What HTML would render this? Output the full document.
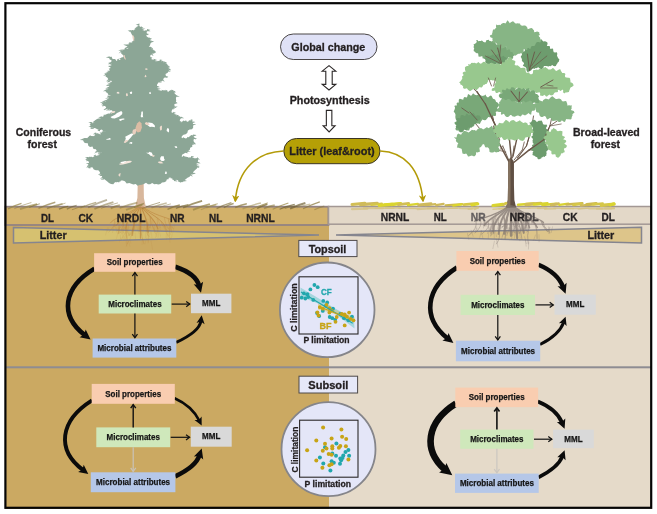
<!DOCTYPE html>
<html><head><meta charset="utf-8"><title>Graphical abstract</title>
<style>
html,body{margin:0;padding:0;background:#fff;}
body{width:657px;height:514px;overflow:hidden;font-family:"Liberation Sans",sans-serif;}
svg{display:block;will-change:transform;opacity:0.9999;font-family:"Liberation Sans",sans-serif;font-weight:bold;}
</style></head><body>
<svg width="657" height="514" viewBox="0 0 657 514">
<defs>
<marker id="ah" viewBox="0 0 10 10" refX="8" refY="5" markerWidth="5.5" markerHeight="5.5" orient="auto-start-reverse"><path d="M0,0.5 L10,5 L0,9.5 L3,5 Z" fill="#111"/></marker>
<marker id="ahg" viewBox="0 0 10 10" refX="8" refY="5" markerWidth="5.5" markerHeight="5.5" orient="auto-start-reverse"><path d="M0,0.5 L10,5 L0,9.5 L3,5 Z" fill="#c4c0bb"/></marker>
<marker id="ahy" viewBox="0 0 10 10" refX="8" refY="5" markerWidth="4.6" markerHeight="4.6" orient="auto"><path d="M0,0 L10,5 L0,10 L3,5 Z" fill="#b39b08"/></marker>
</defs>
<rect x="0" y="0" width="657" height="514" fill="#fff"/>

<g id="soil">
<rect x="5" y="206" width="324" height="303" fill="#cba962"/>
<rect x="329" y="206" width="323" height="303" fill="#e5dac9"/>
<rect x="5.5" y="206.7" width="323" height="18.3" fill="#d2b16a" stroke="#938383" stroke-width="1.8"/>
<rect x="328.5" y="206.5" width="322.5" height="17.7" fill="#e3d8c8" stroke="#a39894" stroke-width="1.5"/>
<rect x="5" y="366.3" width="646" height="2" fill="#8e8c92"/>
</g>
<g id="conifer">
<path d="M137.8,180 L143.6,180 L143.9,198 L146,207.5 L135,207.5 L137.4,198 Z" fill="#d8b79c"/>
<polygon fill="#8ca696" points="138.8,24.4 138.0,26.6 136.0,28.0 134.8,29.9 132.6,30.7 130.2,30.8 130.9,32.8 131.8,34.6 133.0,36.3 133.8,38.6 133.6,40.8 132.0,42.7 129.8,42.8 128.7,45.1 126.6,45.4 128.1,46.9 128.4,49.0 125.6,48.4 123.6,50.3 121.1,50.9 121.2,53.4 123.0,55.1 123.8,57.3 121.8,57.9 120.6,59.9 118.2,59.7 116.5,60.9 115.1,59.1 112.9,59.0 111.3,57.6 109.2,57.3 109.5,59.3 111.7,60.5 110.7,63.0 112.0,64.6 110.6,66.5 110.2,69.0 109.6,71.3 107.4,72.8 105.6,74.2 105.6,76.4 107.2,77.5 108.5,79.2 109.8,80.6 112.0,81.0 110.6,82.9 109.1,84.8 109.2,87.4 108.2,89.1 106.2,90.0 105.6,92.0 107.5,93.1 108.6,95.3 111.0,95.6 108.7,96.3 108.4,99.3 106.7,100.7 104.9,102.0 102.8,102.9 103.0,105.4 105.4,106.3 106.5,108.2 108.2,109.3 110.5,109.4 112.1,110.7 114.0,111.5 112.4,112.7 110.8,113.7 108.8,114.2 107.0,115.1 104.9,115.3 103.5,116.8 101.5,117.2 100.3,119.1 98.1,119.2 96.3,119.8 94.9,121.5 93.9,123.6 91.3,122.9 90.0,124.7 91.2,126.9 93.2,127.8 95.5,128.2 97.4,129.2 99.4,130.3 101.9,129.6 103.6,131.8 106.0,131.5 103.9,132.0 102.2,133.3 100.3,134.5 97.7,133.2 95.6,133.5 94.3,136.4 92.0,136.0 89.9,135.9 88.4,137.5 86.7,138.8 84.7,139.1 82.7,139.3 83.6,141.4 84.8,143.1 87.8,143.3 88.3,145.7 90.0,146.9 92.5,146.6 93.5,149.1 95.9,149.2 97.0,151.4 98.7,152.7 101.2,152.5 103.0,153.5 100.7,152.8 99.2,155.1 97.5,156.2 95.1,155.5 93.6,157.5 91.5,157.6 89.4,157.7 87.4,158.0 87.3,160.0 88.7,161.8 89.2,163.7 88.2,165.8 89.8,167.6 92.4,167.2 93.8,169.6 95.9,170.3 98.3,170.3 99.6,171.8 100.5,173.5 101.5,175.2 102.3,177.1 103.7,178.5 105.4,180.1 107.3,181.4 109.0,182.9 111.0,184.0 113.3,184.3 114.7,182.6 116.5,181.7 118.6,181.7 120.2,180.4 122.7,180.4 124.9,181.3 126.7,183.6 129.3,183.1 131.3,183.8 133.4,184.6 135.8,183.9 137.5,185.8 139.6,185.0 141.8,184.8 143.9,184.0 146.0,182.8 148.0,184.3 150.1,184.3 152.2,182.9 154.2,184.3 156.3,183.9 158.3,184.5 160.4,184.0 162.0,182.6 164.3,182.3 166.2,181.3 167.0,178.7 168.9,177.7 171.3,177.6 173.0,178.8 174.5,180.2 177.0,179.3 178.7,180.6 180.4,181.7 182.3,182.2 183.8,180.5 185.7,179.2 187.5,177.7 189.6,176.7 190.8,174.8 192.7,173.6 193.6,171.4 195.2,169.9 196.9,168.5 197.8,166.5 196.0,164.2 197.6,162.2 198.1,160.1 197.7,158.0 195.6,158.3 193.6,158.4 191.7,156.8 189.5,158.1 187.5,158.1 185.5,157.3 183.6,156.4 181.5,156.8 182.3,154.6 184.3,153.6 185.9,152.2 187.7,151.1 189.7,150.0 190.2,147.7 192.3,146.8 192.2,144.0 194.2,142.9 193.5,140.5 194.1,137.9 193.5,135.5 191.3,135.0 189.5,136.6 187.7,137.7 185.7,138.5 183.5,137.9 181.5,138.5 181.8,136.3 183.5,134.8 185.6,134.2 187.3,133.0 187.9,130.4 189.6,129.4 192.1,129.3 193.2,127.4 193.0,124.9 192.8,122.3 191.4,120.1 189.5,120.8 187.6,121.7 185.5,121.5 183.4,120.5 181.6,122.2 179.5,121.9 180.1,119.5 181.4,117.4 179.3,116.7 177.3,115.7 175.2,114.9 173.8,112.7 171.3,112.8 171.8,110.5 172.7,108.4 175.0,107.3 174.0,103.8 175.7,102.4 176.2,100.5 175.9,98.4 176.5,95.8 174.5,93.8 174.0,91.5 172.1,90.3 170.1,90.3 168.1,92.0 166.2,90.6 164.3,90.3 162.3,90.7 160.4,91.0 158.4,91.0 157.4,89.0 157.1,86.9 157.0,84.7 158.1,83.0 159.4,81.5 161.7,81.4 163.1,80.1 163.8,78.0 166.1,76.9 165.5,74.0 167.7,72.8 168.7,70.7 168.2,68.5 167.7,66.4 166.6,64.0 164.7,62.5 162.2,61.8 160.4,60.4 158.2,60.9 155.9,62.0 154.2,59.7 152.1,60.0 150.4,58.0 150.3,55.4 151.8,53.8 154.2,53.4 155.8,51.8 154.0,50.6 152.0,49.7 150.9,47.4 148.5,47.2 149.9,45.5 150.6,43.3 152.1,41.7 150.1,40.8 149.6,38.3 147.3,37.7 145.8,36.3 147.1,34.4 146.6,31.9 147.6,29.9 145.5,31.1 143.0,30.8 142.0,29.2 141.6,27.1 139.1,26.5"/>
<path fill="#8ca696" d="M139.4,23.5 L135.6,24.7 L139.4,25.3 Z M139.4,23.5 L137.2,25.7 L139.4,25.3 Z M138.6,25.7 L136.3,27.1 L138.6,27.5 Z M138.6,25.7 L135.6,27.8 L138.6,27.5 Z M136.6,27.1 L134.4,28.8 L136.6,28.9 Z M136.6,27.1 L134.1,29.7 L136.6,28.9 Z M135.4,29.0 L133.8,31.1 L135.4,30.8 Z M135.4,29.0 L133.3,31.1 L135.4,30.8 Z M133.2,29.8 L130.6,32.3 L133.2,31.6 Z M133.2,29.8 L130.7,30.8 L133.2,31.6 Z M130.8,29.9 L128.8,31.8 L130.8,31.7 Z M130.8,29.9 L127.6,30.7 L130.8,31.7 Z M134.2,39.9 L131.5,42.0 L134.2,41.7 Z M134.2,39.9 L132.3,41.8 L134.2,41.7 Z M132.6,41.8 L129.0,44.7 L132.6,43.6 Z M132.6,41.8 L129.7,44.7 L132.6,43.6 Z M130.4,41.9 L128.2,43.2 L130.4,43.7 Z M130.4,41.9 L128.5,43.8 L130.4,43.7 Z M129.3,44.2 L126.1,44.6 L129.3,46.0 Z M129.3,44.2 L126.7,46.5 L129.3,46.0 Z M127.2,44.5 L124.0,45.0 L127.2,46.3 Z M127.2,44.5 L123.2,44.6 L127.2,46.3 Z M128.7,46.0 L125.2,48.9 L128.7,47.8 Z M128.7,46.0 L124.8,48.0 L128.7,47.8 Z M129.0,48.1 L126.5,49.5 L129.0,49.9 Z M129.0,48.1 L125.9,50.8 L129.0,49.9 Z M126.2,47.5 L124.1,50.1 L126.2,49.3 Z M126.2,47.5 L124.1,48.8 L126.2,49.3 Z M124.2,49.4 L122.0,50.5 L124.2,51.2 Z M124.2,49.4 L120.0,49.8 L124.2,51.2 Z M121.7,50.0 L118.6,53.4 L121.7,51.8 Z M121.7,50.0 L118.2,50.2 L121.7,51.8 Z M124.4,56.4 L122.1,57.4 L124.4,58.2 Z M124.4,56.4 L122.5,58.4 L124.4,58.2 Z M122.4,57.0 L119.5,60.4 L122.4,58.8 Z M122.4,57.0 L119.0,59.0 L122.4,58.8 Z M121.2,59.0 L119.0,60.4 L121.2,60.8 Z M121.2,59.0 L118.0,61.7 L121.2,60.8 Z M118.8,58.8 L116.7,59.2 L118.8,60.6 Z M118.8,58.8 L117.0,60.9 L118.8,60.6 Z M111.9,56.7 L109.5,57.7 L111.9,58.5 Z M111.9,56.7 L108.2,57.0 L111.9,58.5 Z M109.8,56.4 L107.4,56.8 L109.8,58.2 Z M109.8,56.4 L105.7,57.2 L109.8,58.2 Z M111.3,62.1 L107.9,64.2 L111.3,63.9 Z M111.3,62.1 L108.1,63.1 L111.3,63.9 Z M112.6,63.7 L110.5,65.3 L112.6,65.5 Z M112.6,63.7 L109.9,64.7 L112.6,65.5 Z M111.2,65.6 L108.2,66.4 L111.2,67.4 Z M111.2,65.6 L108.0,65.9 L111.2,67.4 Z M110.8,68.1 L108.6,68.8 L110.8,69.9 Z M110.8,68.1 L108.9,70.1 L110.8,69.9 Z M110.2,70.4 L107.4,72.6 L110.2,72.2 Z M110.2,70.4 L106.5,71.0 L110.2,72.2 Z M108.0,71.9 L103.9,73.4 L108.0,73.7 Z M108.0,71.9 L105.0,73.5 L108.0,73.7 Z M106.2,73.3 L103.2,75.9 L106.2,75.1 Z M106.2,73.3 L104.2,75.4 L106.2,75.1 Z M109.1,78.3 L106.0,81.4 L109.1,80.1 Z M109.1,78.3 L106.9,80.7 L109.1,80.1 Z M110.4,79.7 L106.9,82.7 L110.4,81.5 Z M110.4,79.7 L106.4,81.6 L110.4,81.5 Z M111.2,82.0 L107.6,83.9 L111.2,83.8 Z M111.2,82.0 L108.0,83.4 L111.2,83.8 Z M109.7,83.9 L105.8,85.3 L109.7,85.7 Z M109.7,83.9 L106.3,85.9 L109.7,85.7 Z M109.8,86.5 L106.2,87.6 L109.8,88.3 Z M109.8,86.5 L107.7,88.2 L109.8,88.3 Z M108.8,88.2 L106.4,89.3 L108.8,90.0 Z M108.8,88.2 L105.2,88.4 L108.8,90.0 Z M106.8,89.1 L103.0,91.3 L106.8,90.9 Z M106.8,89.1 L103.8,91.3 L106.8,90.9 Z M109.3,95.4 L106.5,98.1 L109.3,97.2 Z M109.3,95.4 L106.6,96.1 L109.3,97.2 Z M109.0,98.4 L105.0,98.5 L109.0,100.2 Z M109.0,98.4 L106.1,100.4 L109.0,100.2 Z M107.3,99.8 L103.3,100.0 L107.3,101.6 Z M107.3,99.8 L103.8,100.1 L107.3,101.6 Z M105.5,101.1 L102.7,103.0 L105.5,102.9 Z M105.5,101.1 L101.7,101.2 L105.5,102.9 Z M103.4,102.0 L99.8,102.5 L103.4,103.8 Z M103.4,102.0 L101.3,104.7 L103.4,103.8 Z M103.6,104.5 L101.5,104.9 L103.6,106.3 Z M103.6,104.5 L101.8,106.3 L103.6,106.3 Z M107.1,107.3 L104.0,110.2 L107.1,109.1 Z M107.1,107.3 L103.4,109.7 L107.1,109.1 Z M108.8,108.4 L105.9,110.6 L108.8,110.2 Z M108.8,108.4 L106.7,109.9 L108.8,110.2 Z M111.1,108.5 L108.5,110.6 L111.1,110.3 Z M111.1,108.5 L108.7,109.9 L111.1,110.3 Z M114.6,110.6 L111.9,112.1 L114.6,112.4 Z M114.6,110.6 L112.2,112.2 L114.6,112.4 Z M113.0,111.8 L109.0,113.3 L113.0,113.6 Z M113.0,111.8 L109.7,113.7 L113.0,113.6 Z M111.4,112.8 L109.1,114.7 L111.4,114.6 Z M111.4,112.8 L109.0,114.6 L111.4,114.6 Z M109.4,113.3 L105.2,114.4 L109.4,115.1 Z M109.4,113.3 L105.9,114.5 L109.4,115.1 Z M107.6,114.2 L104.2,114.9 L107.6,116.0 Z M107.6,114.2 L105.0,116.6 L107.6,116.0 Z M105.5,114.4 L103.0,115.6 L105.5,116.2 Z M105.5,114.4 L103.0,115.1 L105.5,116.2 Z M104.1,115.9 L101.3,118.7 L104.1,117.7 Z M104.1,115.9 L101.0,117.4 L104.1,117.7 Z M102.1,116.3 L99.3,117.1 L102.1,118.1 Z M102.1,116.3 L98.1,118.1 L102.1,118.1 Z M100.9,118.2 L97.4,119.2 L100.9,120.0 Z M100.9,118.2 L98.5,118.6 L100.9,120.0 Z M98.7,118.3 L96.1,119.6 L98.7,120.1 Z M98.7,118.3 L95.8,120.3 L98.7,120.1 Z M96.9,118.9 L94.1,121.9 L96.9,120.7 Z M96.9,118.9 L93.5,121.4 L96.9,120.7 Z M95.5,120.6 L91.9,122.6 L95.5,122.4 Z M95.5,120.6 L93.2,123.3 L95.5,122.4 Z M94.5,122.7 L90.5,124.2 L94.5,124.5 Z M94.5,122.7 L90.6,124.3 L94.5,124.5 Z M91.9,122.0 L88.3,122.1 L91.9,123.8 Z M91.9,122.0 L89.4,125.0 L91.9,123.8 Z M91.8,126.0 L88.4,126.1 L91.8,127.8 Z M91.8,126.0 L89.6,127.0 L91.8,127.8 Z M93.8,126.9 L90.5,129.0 L93.8,128.7 Z M93.8,126.9 L89.9,128.2 L93.8,128.7 Z M100.0,129.4 L97.6,130.8 L100.0,131.2 Z M100.0,129.4 L97.3,130.6 L100.0,131.2 Z M104.2,130.9 L102.0,133.0 L104.2,132.7 Z M104.2,130.9 L101.8,132.1 L104.2,132.7 Z M104.5,131.1 L101.3,132.8 L104.5,132.9 Z M104.5,131.1 L101.5,131.8 L104.5,132.9 Z M102.8,132.4 L99.4,132.6 L102.8,134.2 Z M102.8,132.4 L98.8,134.3 L102.8,134.2 Z M96.2,132.6 L94.1,133.1 L96.2,134.4 Z M96.2,132.6 L92.7,134.3 L96.2,134.4 Z M94.9,135.5 L92.4,137.1 L94.9,137.3 Z M94.9,135.5 L91.2,137.4 L94.9,137.3 Z M90.5,135.0 L87.9,137.8 L90.5,136.8 Z M90.5,135.0 L88.5,136.7 L90.5,136.8 Z M89.0,136.6 L86.1,139.0 L89.0,138.4 Z M89.0,136.6 L86.9,138.7 L89.0,138.4 Z M87.3,137.9 L83.6,138.9 L87.3,139.7 Z M87.3,137.9 L83.3,138.0 L87.3,139.7 Z M85.3,138.2 L82.1,138.6 L85.3,140.0 Z M85.3,138.2 L83.0,140.0 L85.3,140.0 Z M83.3,138.4 L79.8,140.1 L83.3,140.2 Z M83.3,138.4 L80.8,140.0 L83.3,140.2 Z M97.6,150.5 L94.1,153.4 L97.6,152.3 Z M97.6,150.5 L94.9,152.0 L97.6,152.3 Z M103.6,152.6 L99.9,152.7 L103.6,154.4 Z M103.6,152.6 L99.7,154.8 L103.6,154.4 Z M101.3,151.9 L97.8,154.1 L101.3,153.7 Z M101.3,151.9 L97.5,153.5 L101.3,153.7 Z M99.8,154.2 L97.5,155.0 L99.8,156.0 Z M99.8,154.2 L97.3,157.5 L99.8,156.0 Z M98.1,155.3 L95.6,156.8 L98.1,157.1 Z M98.1,155.3 L94.3,156.5 L98.1,157.1 Z M95.7,154.6 L93.5,156.7 L95.7,156.4 Z M95.7,154.6 L93.4,155.7 L95.7,156.4 Z M94.2,156.6 L91.0,158.3 L94.2,158.4 Z M94.2,156.6 L90.2,158.4 L94.2,158.4 Z M92.1,156.7 L89.2,157.5 L92.1,158.5 Z M92.1,156.7 L88.4,156.9 L92.1,158.5 Z M90.0,156.8 L87.9,157.9 L90.0,158.6 Z M90.0,156.8 L86.2,157.7 L90.0,158.6 Z M88.0,157.1 L85.0,157.5 L88.0,158.9 Z M88.0,157.1 L86.0,159.5 L88.0,158.9 Z M87.9,159.1 L86.2,161.3 L87.9,160.9 Z M87.9,159.1 L84.9,159.6 L87.9,160.9 Z M89.8,162.8 L85.7,163.4 L89.8,164.6 Z M89.8,162.8 L87.1,166.0 L89.8,164.6 Z M88.8,164.9 L86.1,168.0 L88.8,166.7 Z M88.8,164.9 L86.7,166.7 L88.8,166.7 Z M90.4,166.7 L87.3,166.9 L90.4,168.5 Z M90.4,166.7 L87.8,168.1 L90.4,168.5 Z M101.1,172.6 L98.4,174.8 L101.1,174.4 Z M101.1,172.6 L97.9,175.0 L101.1,174.4 Z M102.1,174.3 L100.2,176.1 L102.1,176.1 Z M102.1,174.3 L99.1,175.6 L102.1,176.1 Z M102.9,176.2 L101.1,178.3 L102.9,178.0 Z M102.9,176.2 L99.9,179.1 L102.9,178.0 Z M104.3,177.6 L101.9,179.3 L104.3,179.4 Z M104.3,177.6 L100.5,179.7 L104.3,179.4 Z M117.1,180.8 L113.7,180.9 L117.1,182.6 Z M117.1,180.8 L114.0,181.0 L117.1,182.6 Z M119.2,180.8 L116.5,181.3 L119.2,182.6 Z M119.2,180.8 L116.5,181.4 L119.2,182.6 Z M120.8,179.5 L117.4,181.4 L120.8,181.3 Z M120.8,179.5 L117.8,182.3 L120.8,181.3 Z M166.4,177.8 L169.4,179.0 L166.4,179.6 Z M166.4,177.8 L169.3,178.0 L166.4,179.6 Z M170.7,176.7 L174.1,178.1 L170.7,178.5 Z M170.7,176.7 L173.7,177.2 L170.7,178.5 Z M172.4,177.9 L174.3,180.0 L172.4,179.7 Z M172.4,177.9 L176.1,179.2 L172.4,179.7 Z M173.9,179.3 L177.7,181.5 L173.9,181.1 Z M173.9,179.3 L177.6,179.9 L173.9,181.1 Z M176.4,178.4 L180.5,180.1 L176.4,180.2 Z M176.4,178.4 L178.8,178.9 L176.4,180.2 Z M178.1,179.7 L180.2,180.1 L178.1,181.5 Z M178.1,179.7 L181.2,182.5 L178.1,181.5 Z M179.8,180.8 L182.4,181.8 L179.8,182.6 Z M179.8,180.8 L183.8,181.6 L179.8,182.6 Z M183.2,179.6 L187.0,181.1 L183.2,181.4 Z M183.2,179.6 L186.3,180.9 L183.2,181.4 Z M190.2,173.9 L192.6,175.0 L190.2,175.7 Z M190.2,173.9 L192.9,176.4 L190.2,175.7 Z M192.1,172.7 L195.9,173.0 L192.1,174.5 Z M192.1,172.7 L195.8,173.5 L192.1,174.5 Z M197.2,165.6 L199.5,168.1 L197.2,167.4 Z M197.2,165.6 L199.8,165.9 L197.2,167.4 Z M195.4,163.3 L198.9,164.3 L195.4,165.1 Z M195.4,163.3 L197.7,164.1 L195.4,165.1 Z M197.0,161.3 L200.8,163.2 L197.0,163.1 Z M197.0,161.3 L199.7,163.5 L197.0,163.1 Z M197.1,157.1 L199.6,159.4 L197.1,158.9 Z M197.1,157.1 L199.8,160.0 L197.1,158.9 Z M193.0,157.5 L196.1,160.5 L193.0,159.3 Z M193.0,157.5 L195.4,159.3 L193.0,159.3 Z M191.1,155.9 L194.3,156.5 L191.1,157.7 Z M191.1,155.9 L193.6,157.1 L191.1,157.7 Z M188.9,157.2 L190.6,159.3 L188.9,159.0 Z M188.9,157.2 L193.0,158.7 L188.9,159.0 Z M186.9,157.2 L190.3,158.2 L186.9,159.0 Z M186.9,157.2 L189.0,157.6 L186.9,159.0 Z M184.9,156.4 L188.6,157.2 L184.9,158.2 Z M184.9,156.4 L188.1,157.4 L184.9,158.2 Z M183.0,155.5 L185.1,156.7 L183.0,157.3 Z M183.0,155.5 L185.2,158.3 L183.0,157.3 Z M180.9,155.9 L183.2,158.8 L180.9,157.7 Z M180.9,155.9 L183.3,158.3 L180.9,157.7 Z M185.3,151.3 L188.6,153.3 L185.3,153.1 Z M185.3,151.3 L188.2,151.5 L185.3,153.1 Z M187.1,150.2 L189.3,150.8 L187.1,152.0 Z M187.1,150.2 L190.8,151.3 L187.1,152.0 Z M191.6,143.1 L194.4,143.7 L191.6,144.9 Z M191.6,143.1 L194.9,144.3 L191.6,144.9 Z M193.6,142.0 L195.8,143.2 L193.6,143.8 Z M193.6,142.0 L196.1,144.4 L193.6,143.8 Z M193.5,137.0 L196.2,139.6 L193.5,138.8 Z M193.5,137.0 L197.2,138.9 L193.5,138.8 Z M192.9,134.6 L196.5,135.1 L192.9,136.4 Z M192.9,134.6 L196.6,135.4 L192.9,136.4 Z M187.1,136.8 L189.7,138.8 L187.1,138.6 Z M187.1,136.8 L189.9,139.0 L187.1,138.6 Z M182.9,137.0 L185.5,139.0 L182.9,138.8 Z M182.9,137.0 L186.5,139.5 L182.9,138.8 Z M180.9,137.6 L184.5,139.4 L180.9,139.4 Z M180.9,137.6 L183.2,140.3 L180.9,139.4 Z M192.4,124.0 L196.4,124.3 L192.4,125.8 Z M192.4,124.0 L195.1,124.5 L192.4,125.8 Z M192.2,121.4 L195.0,121.7 L192.2,123.2 Z M192.2,121.4 L195.5,122.0 L192.2,123.2 Z M190.8,119.2 L193.1,120.3 L190.8,121.0 Z M190.8,119.2 L193.1,120.1 L190.8,121.0 Z M188.9,119.9 L191.3,121.9 L188.9,121.7 Z M188.9,119.9 L192.0,122.2 L188.9,121.7 Z M184.9,120.6 L187.7,122.7 L184.9,122.4 Z M184.9,120.6 L187.3,121.1 L184.9,122.4 Z M178.9,121.0 L181.9,121.4 L178.9,122.8 Z M178.9,121.0 L181.8,122.8 L178.9,122.8 Z M180.8,116.5 L184.2,118.3 L180.8,118.3 Z M180.8,116.5 L183.4,118.1 L180.8,118.3 Z M178.7,115.8 L180.8,117.2 L178.7,117.6 Z M178.7,115.8 L180.5,118.1 L178.7,117.6 Z M176.7,114.8 L179.8,116.6 L176.7,116.6 Z M176.7,114.8 L179.2,115.4 L176.7,116.6 Z M174.6,114.0 L177.1,115.1 L174.6,115.8 Z M174.6,114.0 L176.6,116.1 L174.6,115.8 Z M173.2,111.8 L175.9,113.2 L173.2,113.6 Z M173.2,111.8 L176.1,113.1 L173.2,113.6 Z M170.7,111.9 L172.9,113.7 L170.7,113.7 Z M170.7,111.9 L174.3,114.0 L170.7,113.7 Z M172.1,107.5 L174.1,109.2 L172.1,109.3 Z M172.1,107.5 L175.1,108.2 L172.1,109.3 Z M174.4,106.4 L176.6,107.4 L174.4,108.2 Z M174.4,106.4 L177.8,106.6 L174.4,108.2 Z M173.4,102.9 L175.5,103.7 L173.4,104.7 Z M173.4,102.9 L177.2,103.0 L173.4,104.7 Z M175.1,101.5 L177.5,102.7 L175.1,103.3 Z M175.1,101.5 L177.6,103.4 L175.1,103.3 Z M175.9,94.9 L178.5,96.3 L175.9,96.7 Z M175.9,94.9 L179.8,96.7 L175.9,96.7 Z M173.9,92.9 L176.7,95.6 L173.9,94.7 Z M173.9,92.9 L176.7,95.8 L173.9,94.7 Z M173.4,90.6 L175.9,92.8 L173.4,92.4 Z M173.4,90.6 L175.7,91.4 L173.4,92.4 Z M171.5,89.4 L173.3,91.3 L171.5,91.2 Z M171.5,89.4 L173.9,90.8 L171.5,91.2 Z M165.6,89.7 L168.0,91.0 L165.6,91.5 Z M165.6,89.7 L168.6,91.4 L165.6,91.5 Z M161.7,89.8 L164.8,91.6 L161.7,91.6 Z M161.7,89.8 L164.2,91.0 L161.7,91.6 Z M157.8,90.1 L161.3,90.6 L157.8,91.9 Z M157.8,90.1 L160.9,90.9 L157.8,91.9 Z M156.8,88.1 L160.8,88.7 L156.8,89.9 Z M156.8,88.1 L160.1,89.2 L156.8,89.9 Z M156.5,86.0 L159.7,86.1 L156.5,87.8 Z M156.5,86.0 L160.2,87.0 L156.5,87.8 Z M158.8,80.6 L161.9,82.4 L158.8,82.4 Z M158.8,80.6 L161.0,81.3 L158.8,82.4 Z M162.5,79.2 L164.3,81.1 L162.5,81.0 Z M162.5,79.2 L164.9,81.4 L162.5,81.0 Z M165.5,76.0 L168.4,76.6 L165.5,77.8 Z M165.5,76.0 L168.2,77.8 L165.5,77.8 Z M168.1,69.8 L169.7,71.8 L168.1,71.6 Z M168.1,69.8 L170.8,71.5 L168.1,71.6 Z M167.6,67.6 L171.3,70.0 L167.6,69.4 Z M167.6,67.6 L171.1,70.5 L167.6,69.4 Z M167.1,65.5 L170.4,68.4 L167.1,67.3 Z M167.1,65.5 L170.3,66.4 L167.1,67.3 Z M166.0,63.1 L168.7,65.9 L166.0,64.9 Z M166.0,63.1 L167.8,65.0 L166.0,64.9 Z M164.1,61.6 L167.1,62.4 L164.1,63.4 Z M164.1,61.6 L166.1,63.5 L164.1,63.4 Z M161.6,60.9 L164.5,61.2 L161.6,62.7 Z M161.6,60.9 L164.1,61.3 L161.6,62.7 Z M159.8,59.5 L162.4,60.2 L159.8,61.3 Z M159.8,59.5 L162.7,59.9 L159.8,61.3 Z M155.3,61.1 L157.9,64.1 L155.3,62.9 Z M155.3,61.1 L158.9,61.5 L155.3,62.9 Z M153.6,58.8 L156.9,62.0 L153.6,60.6 Z M153.6,58.8 L157.7,60.3 L153.6,60.6 Z M151.5,59.1 L154.5,61.1 L151.5,60.9 Z M151.5,59.1 L154.5,62.7 L151.5,60.9 Z M149.8,57.1 L152.5,57.4 L149.8,58.9 Z M149.8,57.1 L152.7,59.6 L149.8,58.9 Z M151.2,52.9 L153.3,54.6 L151.2,54.7 Z M151.2,52.9 L153.9,56.2 L151.2,54.7 Z M153.4,49.7 L155.5,51.5 L153.4,51.5 Z M153.4,49.7 L156.4,53.2 L153.4,51.5 Z M151.4,48.8 L153.5,49.5 L151.4,50.6 Z M151.4,48.8 L154.5,52.3 L151.4,50.6 Z M150.3,46.5 L153.4,49.2 L150.3,48.3 Z M150.3,46.5 L153.1,48.4 L150.3,48.3 Z M147.9,46.3 L151.8,48.0 L147.9,48.1 Z M147.9,46.3 L150.8,47.3 L147.9,48.1 Z M151.5,40.8 L154.1,41.4 L151.5,42.6 Z M151.5,40.8 L154.0,41.4 L151.5,42.6 Z M149.5,39.9 L151.9,41.2 L149.5,41.7 Z M149.5,39.9 L153.2,41.4 L149.5,41.7 Z M149.0,37.4 L152.4,39.1 L149.0,39.2 Z M149.0,37.4 L151.4,40.2 L149.0,39.2 Z M146.7,36.8 L148.9,38.5 L146.7,38.6 Z M146.7,36.8 L149.5,37.9 L146.7,38.6 Z M145.2,35.4 L147.6,38.5 L145.2,37.2 Z M145.2,35.4 L147.4,36.4 L145.2,37.2 Z M146.5,33.5 L148.9,34.8 L146.5,35.3 Z M146.5,33.5 L149.1,34.1 L146.5,35.3 Z M147.0,29.0 L150.6,31.4 L147.0,30.8 Z M147.0,29.0 L150.6,30.0 L147.0,30.8 Z M144.9,30.2 L147.7,31.1 L144.9,32.0 Z M144.9,30.2 L148.2,30.9 L144.9,32.0 Z M142.4,29.9 L146.2,31.4 L142.4,31.7 Z M142.4,29.9 L146.0,32.3 L142.4,31.7 Z M141.4,28.3 L145.5,28.8 L141.4,30.1 Z M141.4,28.3 L143.9,30.0 L141.4,30.1 Z M141.0,26.2 L143.5,27.9 L141.0,28.0 Z M141.0,26.2 L143.4,28.1 L141.0,28.0 Z M139.7,25.6 L136.2,28.3 L139.7,27.4 Z M139.7,25.6 L137.2,26.5 L139.7,27.4 Z"/>
<polygon fill="#fff" points="122.4,112.5 122.1,114.3 119.1,116.7 114.7,118.6 111.9,118.3 110.5,117.0 115.0,114.7 117.0,112.9 121.3,111.1"/>
<polygon fill="#fff" points="124.3,118.5 124.4,119.5 122.1,120.1 120.6,120.9 119.7,120.5 118.9,120.0 119.8,119.0 121.5,118.7 122.8,118.4"/>
<polygon fill="#f0ddd0" points="114.6,111.1 115.4,111.7 114.1,112.9 112.6,113.0 111.0,113.7 111.6,112.5 111.4,111.7 112.9,111.2 113.7,111.1"/>
<polygon fill="#fff" points="133.8,133.7 131.8,136.3 130.4,137.9 127.8,140.7 125.0,140.8 125.8,138.6 125.2,136.8 128.5,134.9 131.4,133.6"/>
<polygon fill="#eed9cb" points="127.5,140.1 128.5,140.7 127.0,141.8 125.3,142.9 123.8,142.8 124.3,141.6 124.7,140.8 125.9,140.2 126.8,139.9"/>
<polygon fill="#fff" points="132.2,143.0 132.2,143.5 131.3,144.0 130.4,143.5 129.1,143.4 129.5,142.7 130.2,142.3 131.4,141.9 132.4,142.4"/>
<polygon fill="#fff" points="153.3,155.3 152.6,156.0 150.5,155.8 149.1,154.2 146.0,152.7 148.7,152.8 149.2,151.7 152.0,152.7 152.3,154.2"/>
<polygon fill="#f0ddd0" points="154.8,156.0 154.0,156.5 153.3,156.9 152.6,156.5 152.1,156.2 152.0,155.8 152.0,154.9 153.2,155.3 154.3,155.3"/>
<polygon fill="#f4e6dc" points="132.0,161.1 130.7,162.6 126.1,163.8 122.9,164.6 120.1,164.8 118.9,164.1 123.0,162.8 125.7,161.3 129.7,160.7"/>
<polygon fill="#fff" points="126.3,161.4 124.4,162.3 123.9,163.2 122.2,163.0 120.9,163.1 120.3,162.7 121.0,161.9 123.2,161.5 125.5,160.9"/>
<polygon fill="#fff" points="164.9,160.1 163.4,160.9 161.7,161.0 160.4,160.0 160.1,158.9 160.3,157.8 161.2,156.2 163.8,156.2 164.0,158.5"/>
<polygon fill="#f2e0d5" points="162.3,162.5 163.4,163.3 161.0,163.4 159.2,163.2 158.5,162.7 157.8,162.2 158.8,161.5 161.0,161.6 162.4,162.0"/>
<polygon fill="#fff" points="142.8,115.0 143.2,117.6 142.1,116.9 141.4,117.6 140.6,116.3 141.2,114.3 141.3,111.9 142.3,110.9 143.0,112.8"/>
<polygon fill="#fff" points="155.0,127.3 151.8,126.8 149.9,127.1 148.0,125.5 144.8,123.5 147.0,123.0 148.8,122.5 152.2,122.9 154.7,125.3"/>
<polygon fill="#ecd5c5" points="149.9,124.6 148.3,124.9 146.9,124.9 145.3,124.3 144.9,123.2 145.5,122.5 146.4,122.1 147.6,122.7 148.7,123.3"/>
<polygon fill="#dcbca4" points="141.9,127.6 140.4,131.7 137.8,132.4 136.0,131.0 135.5,128.1 136.3,125.6 137.3,123.3 139.4,121.2 141.4,123.3"/>
<polygon fill="#e9cfbf" points="136.0,132.0 135.4,134.1 133.8,134.7 132.6,133.7 132.4,131.8 133.0,129.8 134.5,129.3 135.9,128.7 136.1,130.5"/>
<polygon fill="#fff" points="169.1,130.0 169.0,131.7 168.2,132.5 167.5,131.6 166.6,131.0 166.9,129.1 167.4,127.9 168.1,128.6 168.9,128.5"/>
<polygon fill="#efdccf" points="161.9,128.0 161.9,129.6 161.2,130.2 160.3,130.4 159.9,128.9 159.8,127.1 160.5,126.3 161.2,125.5 162.0,126.3"/>
<polygon fill="#e8cfc0" points="134.4,37.8 134.2,39.4 134.2,41.3 133.6,41.0 132.9,39.2 132.4,36.9 132.5,35.0 133.2,35.3 133.7,36.2"/>
<polygon fill="#e8cfc0" points="125.0,56.9 125.7,58.7 125.5,59.9 124.7,59.0 124.0,58.1 123.5,56.3 123.5,54.8 124.1,55.3 124.7,55.1"/>
<polygon fill="#efdccf" points="147.6,69.0 147.4,69.7 146.7,69.8 145.9,69.9 145.3,69.4 145.4,68.7 145.9,68.1 146.6,68.4 147.1,68.6"/>
<polygon fill="#efdccf" points="146.4,76.0 146.3,77.0 145.6,77.1 145.0,77.4 144.6,76.5 145.0,75.7 145.1,74.8 145.6,74.9 146.0,75.4"/>
<polygon fill="#fff" points="132.0,93.0 131.9,93.8 131.2,94.1 130.5,93.9 130.1,93.3 129.7,92.5 130.3,91.9 131.3,91.5 132.2,92.0"/>
<polygon fill="#fff" points="150.9,93.0 151.1,93.9 150.1,93.7 149.5,93.9 149.2,93.3 149.1,92.7 149.6,92.3 150.2,91.7 150.7,92.4"/>
<polygon fill="#efdccf" points="127.7,95.0 127.9,96.0 127.1,96.0 126.4,96.3 126.1,95.4 125.9,94.5 126.3,93.3 127.2,93.2 127.8,94.1"/>
<polygon fill="#f3e6de" points="119.7,93.0 119.1,93.6 118.2,93.8 117.5,93.6 116.6,93.3 116.7,92.7 117.1,91.9 118.3,91.8 119.1,92.4"/>
<polygon fill="#efdccf" points="120.3,175.1 120.1,176.8 119.4,176.2 119.0,176.1 118.5,175.5 118.7,174.1 119.4,173.7 120.0,172.9 120.7,173.5"/>
<polygon fill="#fff" points="166.8,173.0 166.7,173.8 166.1,174.0 165.6,173.9 164.8,173.6 165.2,172.6 165.4,171.5 166.2,171.4 166.7,172.1"/>
<polygon fill="#fff" points="177.0,147.0 177.3,147.8 176.2,147.9 175.4,147.7 175.0,147.3 174.4,146.6 175.4,146.2 176.2,146.3 176.9,146.4"/>
<polygon fill="#fff" points="110.6,138.7 111.0,139.2 109.5,139.7 108.2,139.7 106.5,139.8 106.3,139.1 108.2,138.7 109.3,138.1 110.3,138.3"/>
</g>
<g id="broadleaf" transform="translate(512 0) scale(1.025 1) translate(-512 0)">
<path d="M506.2,207.5 L507.9,200 L508.3,175 L508.2,160.5 L511,157 L513.9,162 L513.9,185 L514.3,200 L516,207.5 Z" fill="#5f4f43"/>
<path d="M506.2,207.5 L507.9,200 L508.3,175 L508.2,160.5 L510.4,158 L510.6,185 L510.4,207.5 Z" fill="#84725f"/>
<path d="M508.6,161 L499.5,143.7" stroke="#6a5648" stroke-width="1.5" fill="none" stroke-linecap="round"/>
<path d="M499.5,143.7 L494,128" stroke="#6a5648" stroke-width="1.2" fill="none" stroke-linecap="round"/>
<path d="M511.3,158 L509.4,138" stroke="#6a5648" stroke-width="1.4" fill="none" stroke-linecap="round"/>
<path d="M513,156 L517.3,136" stroke="#6a5648" stroke-width="1.3" fill="none" stroke-linecap="round"/>
<path d="M513.7,162.5 L529.1,149.7" stroke="#6a5648" stroke-width="1.5" fill="none" stroke-linecap="round"/>
<path d="M529.1,149.7 L543,139.8" stroke="#6a5648" stroke-width="1.3" fill="none" stroke-linecap="round"/>
<path d="M543,139.8 L549,125.9" stroke="#6a5648" stroke-width="1.1" fill="none" stroke-linecap="round"/>
<path d="M549,125.9 L556,121" stroke="#6a5648" stroke-width="0.9" fill="none" stroke-linecap="round"/>
<path d="M517.3,158 L526.2,145.7" stroke="#6a5648" stroke-width="1.1" fill="none" stroke-linecap="round"/>
<path d="M526.2,145.7 L531,128" stroke="#6a5648" stroke-width="1.0" fill="none" stroke-linecap="round"/>
<path d="M497,128 L486,104" stroke="#6a5648" stroke-width="1.4" fill="none" stroke-linecap="round"/>
<path d="M486,104 L478,92" stroke="#6a5648" stroke-width="1.2" fill="none" stroke-linecap="round"/>
<path d="M478,92 L472,86" stroke="#6a5648" stroke-width="1.0" fill="none" stroke-linecap="round"/>
<path d="M494,120 L489,100" stroke="#6a5648" stroke-width="1.0" fill="none" stroke-linecap="round"/>
<path d="M500,140 L494,126" stroke="#6a5648" stroke-width="1.0" fill="none" stroke-linecap="round"/>
<path d="M509.6,140 L508,122" stroke="#6a5648" stroke-width="1.0" fill="none" stroke-linecap="round"/>
<path d="M517,137 L519,122" stroke="#6a5648" stroke-width="1.0" fill="none" stroke-linecap="round"/>
<path d="M549,125.9 L552,112" stroke="#6a5648" stroke-width="0.9" fill="none" stroke-linecap="round"/>
<path d="M531,128 L533,116" stroke="#6a5648" stroke-width="0.9" fill="none" stroke-linecap="round"/>
<path d="M470,120 L462,112" stroke="#6a5648" stroke-width="0.9" fill="none" stroke-linecap="round"/>
<path d="M480,128 L472,118" stroke="#6a5648" stroke-width="0.9" fill="none" stroke-linecap="round"/>
<path d="M508.8,160 L503,146" stroke="#6a5648" stroke-width="0.9" fill="none" stroke-linecap="round"/>
<path d="M503,146 L500,150" stroke="#6a5648" stroke-width="0.6" fill="none" stroke-linecap="round"/>
<path d="M512.5,158 L514,146" stroke="#6a5648" stroke-width="0.9" fill="none" stroke-linecap="round"/>
<path d="M514,160 L522,150" stroke="#6a5648" stroke-width="0.9" fill="none" stroke-linecap="round"/>
<path d="M522,150 L524,142" stroke="#6a5648" stroke-width="0.8" fill="none" stroke-linecap="round"/>
<path d="M529,150 L536,150" stroke="#6a5648" stroke-width="0.7" fill="none" stroke-linecap="round"/>
<path d="M506,152 L498,150" stroke="#6a5648" stroke-width="0.7" fill="none" stroke-linecap="round"/>
<path d="M543,140 L552,138" stroke="#6a5648" stroke-width="0.7" fill="none" stroke-linecap="round"/>
<path d="M549,126 L560,124" stroke="#6a5648" stroke-width="0.7" fill="none" stroke-linecap="round"/>
<path d="M499.5,143.7 L492,140" stroke="#6a5648" stroke-width="0.8" fill="none" stroke-linecap="round"/>
<polygon fill="#79a878" points="458.2,105.6 458.1,104.2 458.0,103.0 459.0,102.6 460.2,102.4 460.0,100.9 460.2,99.4 461.1,98.7 462.8,99.2 464.4,99.7 464.8,98.1 465.6,97.1 466.8,97.2 468.1,97.5 468.6,95.8 469.1,93.9 470.5,94.8 471.8,95.7 472.8,95.3 473.6,93.8 474.5,93.5 475.7,94.8 476.6,95.1 477.6,95.3 478.5,94.7 479.6,94.0 480.6,94.9 481.7,95.3 482.7,96.1 483.8,95.8 485.0,95.4 486.2,94.6 486.9,96.2 487.7,97.1 488.6,97.5 490.0,96.3 491.3,95.4 492.1,95.9 492.7,97.2 493.3,98.5 493.9,99.1 495.1,99.3 495.8,99.9 496.1,101.1 496.5,102.1 497.6,102.2 498.2,103.1 499.2,104.0 499.2,105.0 499.0,106.0 498.4,107.1 497.3,107.9 498.1,109.0 498.9,110.0 498.4,111.2 497.0,111.5 496.0,112.0 496.5,113.5 496.4,115.0 495.9,115.9 494.3,115.9 493.0,115.6 491.9,115.9 491.4,117.5 490.1,117.3 488.8,116.9 488.2,118.1 487.3,119.0 486.6,119.9 485.5,120.2 484.3,120.0 482.9,119.4 482.4,120.7 481.7,121.6 481.2,122.8 480.6,123.9 479.3,123.6 478.3,123.6 476.9,123.4 475.6,123.3 475.2,124.5 475.1,126.0 474.1,126.5 473.0,126.6 471.7,126.3 471.3,127.8 470.7,128.7 470.2,130.6 469.0,130.4 467.8,130.2 466.3,129.5 465.1,129.2 464.4,131.2 463.4,131.9 462.5,130.9 461.6,129.7 460.7,130.3 459.1,130.5 457.9,130.4 456.6,128.9 457.4,127.5 457.3,126.5 457.7,125.5 456.8,124.4 455.9,123.3 456.0,122.3 457.7,121.5 458.1,120.3 457.1,119.2 456.9,118.2 456.7,117.1 456.8,116.0 456.9,114.9 456.7,113.9 456.1,112.8 455.1,111.8 455.6,110.6 456.0,109.5 456.3,108.5 456.4,107.5 455.8,106.2 456.3,105.4"/>
<polygon fill="#6d9c6e" points="458.4,125.6 457.5,124.5 456.1,123.3 457.7,122.5 458.6,122.0 457.9,120.3 457.4,118.7 459.0,117.9 460.1,118.1 461.4,118.5 461.6,117.1 461.9,115.5 462.8,115.0 463.7,114.9 465.0,115.4 466.2,116.3 466.9,114.7 467.6,113.4 468.9,114.3 470.0,115.5 471.0,114.6 472.0,114.1 473.0,113.4 474.4,112.9 475.2,114.1 475.9,115.3 476.8,116.0 478.2,115.3 479.1,115.6 480.4,115.6 481.6,117.4 481.4,118.3 481.2,119.2 479.9,120.2 479.0,120.6 478.1,121.0 477.9,121.9 477.6,122.7 476.9,123.4 476.3,124.3 475.0,124.3 474.5,125.3 473.8,125.9 473.3,127.1 472.4,127.7 471.2,127.6 470.1,127.7 469.0,127.6 468.5,129.3 467.9,130.6 466.5,129.9 465.2,129.5 464.4,131.3 463.4,131.7 462.5,132.4 461.6,132.2 460.0,131.2 459.9,129.5 459.6,128.3 458.4,128.3 457.4,127.5 457.0,126.6"/>
<path d="M486,104 L478,92" stroke="#6a5648" stroke-width="1.2" fill="none" stroke-linecap="round"/>
<path d="M497,128 L486,104" stroke="#6a5648" stroke-width="1.3" fill="none" stroke-linecap="round"/>
<path d="M471,112 L478,120" stroke="#6a5648" stroke-width="0.8" fill="none" stroke-linecap="round"/>
<path d="M463,108 L470,113" stroke="#6a5648" stroke-width="0.8" fill="none" stroke-linecap="round"/>
<polygon fill="#87b585" points="535.8,103.2 536.4,101.8 537.3,101.1 538.0,100.1 539.3,100.5 540.6,100.9 541.8,101.4 542.5,100.1 543.4,99.5 544.3,98.7 545.4,98.8 546.5,99.1 547.6,99.5 548.5,98.8 549.3,97.7 550.4,96.7 551.5,96.3 552.6,97.2 553.8,98.3 554.7,99.1 555.7,99.0 556.9,98.7 557.9,98.6 559.0,98.9 559.8,99.3 560.3,100.2 560.9,101.0 561.7,101.5 563.0,101.2 564.4,101.1 565.3,101.7 565.5,103.1 566.0,104.1 565.9,105.5 567.9,105.2 568.8,105.6 570.6,105.4 570.0,107.1 570.3,108.3 569.4,110.0 570.7,110.5 572.3,111.0 573.0,112.7 571.6,113.6 570.9,114.6 571.1,115.6 570.5,116.4 570.2,117.5 570.0,118.9 568.9,119.6 567.6,119.3 566.3,119.2 565.0,119.0 564.4,120.1 563.9,121.5 563.0,121.9 561.8,121.2 560.6,120.3 560.0,121.2 558.9,122.1 557.7,122.0 556.8,121.4 556.1,120.5 555.0,120.5 553.9,120.8 552.9,120.8 551.7,121.3 551.1,120.5 550.6,119.7 550.0,118.3 548.9,118.1 547.4,119.0 546.2,119.6 545.6,118.3 544.9,116.8 544.1,115.9 543.0,116.3 541.8,116.9 540.7,117.0 539.7,116.6 538.8,115.3 538.6,113.9 538.3,112.7 536.9,112.5 535.8,111.9 535.4,111.0 535.4,110.0 534.8,109.1 535.6,107.8 533.9,107.4 532.2,105.6 532.9,104.8 534.4,104.3 534.6,103.3"/>
<polygon fill="#87b585" points="457.8,137.4 458.2,136.3 458.3,135.0 458.9,134.3 459.8,133.5 461.4,134.4 462.6,134.4 463.2,133.1 464.1,132.2 464.8,131.1 465.9,130.9 467.0,131.3 468.3,131.8 469.5,132.4 470.4,132.1 471.1,131.2 472.0,130.7 472.7,129.7 473.7,129.9 474.7,130.2 475.7,130.0 476.9,131.0 477.7,130.1 478.6,129.1 479.5,128.5 480.3,127.8 481.4,128.3 482.4,128.3 483.6,129.3 484.6,129.2 485.4,128.6 486.3,127.9 487.1,127.3 488.1,127.5 489.3,128.2 490.1,127.6 490.9,126.9 492.3,125.8 493.0,126.8 493.5,128.2 494.3,128.4 495.1,129.3 496.3,130.2 496.0,131.2 495.5,132.3 495.2,133.4 496.1,134.0 497.3,134.5 497.8,135.3 497.8,135.5 498.3,136.6 498.2,138.5 499.1,138.9 500.1,139.4 500.3,140.3 500.4,141.3 499.7,142.2 500.0,143.3 501.0,144.5 500.5,145.5 499.4,146.3 498.5,147.0 499.4,148.4 499.7,149.7 499.6,151.9 498.2,152.1 496.4,152.6 495.4,151.8 494.5,151.8 493.7,152.5 492.6,152.5 491.6,152.6 490.1,152.1 490.0,151.0 489.9,149.7 489.6,148.7 489.1,147.9 488.1,147.3 486.5,147.5 485.8,146.9 485.3,145.8 484.9,144.6 483.6,144.0 483.0,145.3 482.4,145.7 482.1,146.6 481.2,147.2 480.2,147.8 480.3,148.9 480.5,150.2 480.8,151.6 479.6,152.0 478.4,152.4 476.8,152.2 477.0,153.9 476.6,155.1 475.5,156.2 474.4,156.2 472.9,155.4 472.1,155.7 471.1,156.0 470.0,156.6 469.1,156.4 468.5,155.2 467.9,154.3 467.2,153.6 465.7,154.0 464.3,153.7 463.5,153.3 463.5,152.0 463.2,151.1 463.1,150.0 462.9,149.0 462.2,148.5 461.1,148.2 460.0,147.8 458.2,147.4 458.6,146.3 458.7,145.3 459.0,144.2 459.7,142.9 458.4,142.4 457.8,141.7 457.2,141.0 457.5,139.7 457.5,139.3 455.2,137.3"/>
<polygon fill="#6d9c6e" points="530.5,122.4 531.4,120.8 532.5,120.1 533.6,119.8 535.0,120.6 535.8,121.8 536.8,121.8 538.0,120.8 539.6,120.7 540.9,120.4 541.4,121.4 541.9,122.6 542.2,124.0 542.9,124.6 544.2,124.7 545.7,124.5 546.4,125.9 545.3,127.4 545.2,128.5 546.1,129.2 547.6,130.2 547.9,131.1 547.7,132.0 546.9,132.9 545.3,133.5 546.2,135.0 546.2,136.1 547.3,137.7 546.4,137.8 545.5,138.8 545.3,139.8 544.1,140.8 544.6,141.8 546.0,142.4 546.3,143.4 545.4,144.9 546.1,145.7 546.6,146.7 547.4,147.6 547.9,148.6 547.1,149.8 546.4,150.7 545.5,151.5 545.6,152.6 545.8,153.8 545.4,154.7 545.5,155.8 544.4,156.1 543.8,157.0 542.4,156.5 541.7,157.2 540.8,157.5 540.5,158.6 539.6,158.8 538.7,159.2 537.6,159.2 536.9,158.5 536.6,157.2 535.7,157.0 534.7,156.5 533.9,155.8 532.3,155.3 531.9,154.5 532.3,153.3 532.1,152.4 533.0,151.3 530.8,150.3 530.6,149.2 531.7,148.0 532.1,147.2 531.7,146.1 531.5,145.1 533.0,144.5 533.0,143.5 532.1,142.4 532.2,141.4 532.0,140.4 532.5,139.1 531.8,138.3 530.9,137.3 531.1,136.3 532.4,135.6 532.1,134.4 532.4,133.4 532.1,132.5 531.7,131.6 531.5,130.7 531.9,129.6 532.4,128.4 532.3,127.3 531.0,126.9 530.1,126.2 530.1,125.0 530.1,124.5 529.1,123.1 529.3,122.3"/>
<path d="M529.1,149.7 L543,139.8" stroke="#6a5648" stroke-width="1.2" fill="none" stroke-linecap="round"/>
<path d="M543,139.8 L548,128" stroke="#6a5648" stroke-width="1.0" fill="none" stroke-linecap="round"/>
<path d="M526.2,145.7 L531,130" stroke="#6a5648" stroke-width="0.9" fill="none" stroke-linecap="round"/>
<polygon fill="#98c88e" points="546.0,135.4 545.3,133.0 545.4,131.5 547.0,130.6 548.5,131.7 549.5,131.9 550.0,130.9 550.7,129.3 551.7,129.2 552.5,127.8 553.6,128.7 555.1,129.4 555.8,130.8 556.8,131.3 558.9,130.7 560.1,130.9 561.2,131.2 561.2,132.5 561.1,134.0 560.9,135.3 561.6,136.1 563.1,136.5 563.7,137.6 561.9,139.2 563.3,139.8 564.5,140.3 565.0,141.2 564.3,142.5 563.0,143.5 564.2,144.6 565.5,145.6 565.3,147.1 564.2,147.9 562.7,148.4 562.7,149.5 563.3,151.1 563.4,152.3 562.2,152.6 561.6,153.2 560.2,153.2 559.7,154.3 559.3,155.5 558.0,157.0 557.1,157.7 556.2,157.6 554.7,156.5 554.6,155.0 554.1,154.2 553.0,154.2 551.6,154.4 550.6,153.9 550.4,152.5 550.4,151.0 549.2,150.6 548.4,149.9 547.2,149.4 546.8,148.3 546.3,147.3 546.6,145.9 546.8,144.9 545.9,144.2 544.3,143.8 543.8,142.9 545.3,141.5 545.2,140.4 544.4,139.6 543.3,138.8 542.5,138.1 543.4,136.7 543.8,135.9 545.1,135.5"/>
<polygon fill="#98c88e" points="497.2,126.0 497.8,124.9 498.6,124.4 499.1,123.2 500.0,122.7 501.2,123.3 502.3,123.2 503.4,123.3 504.2,121.8 505.1,120.9 505.9,119.8 507.3,120.6 508.3,121.3 509.4,122.5 510.3,121.3 511.3,120.6 512.3,120.2 513.2,119.9 514.3,120.6 515.3,121.4 516.3,122.0 517.5,121.4 518.6,121.1 519.7,120.3 520.7,121.5 521.7,121.9 522.5,122.8 523.5,122.9 524.8,122.3 525.7,122.7 526.8,123.0 527.2,124.3 527.9,125.2 529.7,124.4 530.8,125.3 531.7,125.9 531.9,127.0 531.6,128.3 531.4,129.2 532.2,130.2 533.1,131.3 532.8,132.8 531.5,133.0 530.2,133.2 530.6,134.6 530.3,135.6 529.8,136.8 529.2,137.7 527.6,137.1 526.6,137.3 525.5,137.2 524.7,138.1 524.1,139.7 523.3,140.5 522.0,141.1 520.8,140.4 519.7,140.3 518.4,138.7 517.4,139.4 516.3,139.9 515.3,140.5 514.3,140.5 513.3,139.9 512.4,139.7 511.4,139.6 510.5,139.2 509.2,140.6 508.2,140.2 507.4,138.6 506.1,139.7 504.9,140.0 503.9,140.0 503.2,139.1 502.5,138.1 501.9,137.0 500.6,137.8 499.6,137.7 498.5,137.6 497.6,137.4 496.9,136.1 496.6,135.1 496.7,133.8 495.8,133.2 494.7,132.5 493.8,131.8 493.6,130.5 494.5,129.4 494.9,128.4 494.9,127.6 494.3,125.7 495.4,125.2"/>
<polygon fill="#79a878" points="479.1,41.3 480.3,41.0 481.4,40.9 482.5,40.6 483.0,40.8 484.2,42.0 486.0,42.5 486.6,41.6 486.9,40.2 488.0,40.1 489.3,39.7 490.0,41.0 491.0,41.1 491.9,41.6 493.2,41.1 494.2,41.2 495.5,41.3 495.7,43.0 496.6,43.9 497.1,45.1 498.4,44.7 499.4,44.8 500.3,44.9 501.2,44.9 502.0,45.5 502.5,46.8 503.6,47.2 505.1,46.6 506.4,46.6 506.9,48.1 507.6,49.1 509.3,48.5 510.9,48.1 511.2,49.4 511.4,50.9 511.7,52.0 513.6,51.8 515.4,53.0 515.8,53.7 514.7,54.8 513.8,55.8 513.0,56.4 513.2,57.4 512.9,58.2 512.2,59.0 510.9,59.7 510.2,58.9 509.7,57.7 508.3,57.3 508.0,58.5 507.3,59.2 507.4,59.8 506.7,60.6 505.5,61.0 504.7,61.7 504.6,63.0 503.9,63.6 503.5,64.9 502.3,64.4 501.4,63.5 500.1,64.6 498.9,65.2 498.0,63.5 496.8,63.6 495.7,64.6 494.6,65.1 493.7,64.4 492.8,63.7 492.0,62.9 491.1,62.7 490.2,63.0 489.0,63.3 488.0,63.1 486.8,63.2 485.8,61.9 486.2,60.5 486.0,59.5 486.0,58.1 484.4,58.5 483.2,58.3 483.3,56.6 482.2,56.3 480.8,56.7 479.3,56.5 479.2,54.9 478.9,53.3 477.5,53.3 476.9,52.7 476.0,52.3 475.5,51.6 474.5,51.0 474.8,50.0 474.7,49.2 475.2,48.7 474.6,47.6 474.6,46.6 475.0,45.8 474.4,44.6 475.4,44.0 476.3,43.4 477.0,42.8 477.7,42.1 477.1,40.1 478.3,40.0"/>
<polygon fill="#6d9c6e" points="486.8,57.6 487.4,56.4 488.1,55.5 489.1,55.4 490.2,56.1 491.2,55.8 492.1,55.4 492.9,54.4 494.1,54.7 495.0,55.8 496.0,55.4 497.1,54.7 498.3,54.0 499.2,54.3 500.1,55.2 500.8,56.7 501.8,56.7 502.8,56.3 503.9,55.7 504.6,56.8 505.5,57.2 506.6,58.0 507.8,60.0 507.2,60.8 505.5,61.1 504.7,61.7 505.1,64.1 504.7,65.3 503.4,64.7 502.3,64.4 501.4,63.2 500.2,63.8 499.0,64.4 498.0,63.5 496.9,63.2 495.7,64.3 494.7,64.9 493.8,63.9 492.9,62.8 492.0,62.8 491.0,63.6 490.1,64.0 488.6,64.0 487.5,64.0 487.0,62.9 486.5,61.5 486.6,60.3 486.1,59.5 484.4,58.2 485.5,57.6"/>
<polygon fill="#6d9c6e" points="524.6,50.9 524.4,49.4 524.8,48.5 524.9,46.9 526.6,47.2 528.1,47.2 528.9,46.3 529.2,45.0 530.7,45.2 531.9,45.1 532.5,44.1 532.6,42.6 533.3,41.8 534.1,41.2 534.9,40.5 536.2,40.7 537.8,41.3 538.6,40.4 539.5,40.0 540.3,39.3 541.4,40.0 541.9,41.0 542.7,41.4 543.7,41.3 545.1,41.6 546.5,42.6 546.7,43.4 546.5,44.5 546.0,45.9 547.4,46.1 549.0,46.2 549.1,47.2 549.0,48.8 550.3,48.7 551.8,48.5 552.2,49.5 552.3,51.1 552.8,52.2 554.1,52.4 555.6,52.2 556.1,53.1 556.1,54.5 555.9,55.8 556.4,56.7 556.7,57.6 557.3,58.6 558.3,59.4 557.9,60.5 557.8,61.6 557.0,62.3 556.2,63.0 556.2,63.7 555.4,64.6 554.8,65.9 553.6,66.2 552.5,66.1 551.3,65.0 550.6,65.4 549.5,66.3 548.5,66.0 547.7,66.6 546.6,66.2 545.5,66.1 544.5,66.1 543.1,65.9 542.8,67.6 541.7,68.8 540.9,70.0 539.8,69.1 538.6,68.0 537.7,67.3 536.6,67.7 535.8,68.2 534.8,68.0 534.2,69.0 533.3,68.6 532.1,68.7 531.4,69.3 531.1,70.1 530.1,70.7 528.2,71.8 527.1,71.9 526.4,71.1 526.0,69.5 526.0,68.3 525.5,67.5 524.8,66.9 523.4,66.3 522.5,65.5 523.6,64.1 523.8,62.9 522.9,62.2 522.2,61.4 521.6,60.7 521.7,59.5 521.5,58.8 521.1,57.8 520.5,56.9 520.9,55.9 521.7,55.1 521.7,53.9 521.9,52.6 522.1,51.5 523.7,51.4"/>
<polygon fill="#87b585" points="500.7,25.2 501.5,24.1 502.4,23.5 503.3,23.1 504.4,23.1 505.6,23.6 506.6,22.0 507.5,20.3 508.9,21.7 509.8,23.2 510.9,22.3 511.9,21.8 512.9,21.3 514.0,22.0 514.7,22.9 515.6,23.4 516.5,23.5 517.5,23.2 518.6,23.4 519.8,23.5 520.3,25.0 521.2,25.6 522.3,25.8 523.6,25.5 524.8,25.5 525.6,26.1 526.4,26.8 527.0,27.7 527.3,29.3 528.6,28.7 529.9,28.2 531.1,28.1 531.9,28.6 532.6,29.6 533.4,30.3 533.7,32.2 535.0,32.0 536.5,31.6 537.9,32.1 538.7,32.6 538.6,33.8 539.3,34.9 537.9,35.6 538.5,36.7 539.4,37.4 539.5,38.0 539.7,39.8 540.6,39.6 540.4,40.5 540.2,41.6 539.4,42.6 538.1,42.1 536.9,42.1 535.8,42.4 535.2,43.4 534.7,44.7 534.4,45.5 533.5,46.0 531.9,45.9 531.0,46.2 530.5,47.1 529.9,48.9 529.0,48.8 527.8,47.8 527.0,48.2 527.0,49.5 526.3,50.3 524.2,49.0 523.2,49.6 523.4,50.9 523.0,51.8 522.5,53.1 521.6,53.4 520.3,53.3 519.6,53.7 518.4,53.7 517.3,54.3 515.7,55.6 514.6,55.8 513.9,54.7 512.9,53.7 512.9,52.4 511.5,52.1 510.5,52.0 510.2,50.7 509.9,49.4 508.6,49.6 506.9,50.6 506.4,49.1 506.3,46.5 504.7,47.6 503.3,48.0 502.0,48.7 501.4,47.6 500.9,46.2 500.2,45.2 499.3,45.1 498.1,45.2 497.3,44.5 496.9,43.3 496.2,42.7 494.8,42.8 493.2,42.5 492.6,41.8 493.2,40.3 492.8,39.3 493.1,38.1 491.3,37.6 490.3,36.1 490.8,35.2 492.7,34.5 492.5,33.7 492.9,32.8 493.0,31.7 493.3,30.6 493.6,29.6 495.0,29.4 495.6,28.6 496.6,28.1 496.4,26.6 496.6,24.6 498.3,25.2 499.4,24.8"/>
<path d="M502,64 L498,48" stroke="#6a5648" stroke-width="0.9" fill="none" stroke-linecap="round"/>
<path d="M502,64 L492,50" stroke="#6a5648" stroke-width="0.8" fill="none" stroke-linecap="round"/>
<path d="M502,64 L486,56" stroke="#6a5648" stroke-width="0.7" fill="none" stroke-linecap="round"/>
<path d="M500,56 L501,45" stroke="#6a5648" stroke-width="0.7" fill="none" stroke-linecap="round"/>
<path d="M529,70 L534,52" stroke="#6a5648" stroke-width="0.9" fill="none" stroke-linecap="round"/>
<path d="M529,70 L527,54" stroke="#6a5648" stroke-width="0.8" fill="none" stroke-linecap="round"/>
<path d="M529,70 L546,56" stroke="#6a5648" stroke-width="0.7" fill="none" stroke-linecap="round"/>
<path d="M531,66 L540,52" stroke="#6a5648" stroke-width="0.7" fill="none" stroke-linecap="round"/>
<polygon fill="#98c88e" points="470.8,64.5 471.6,64.1 472.2,63.1 473.0,62.7 474.1,63.0 475.1,62.8 476.1,63.1 477.1,63.5 478.0,62.9 479.2,62.0 480.2,63.0 481.3,63.7 482.5,63.3 483.5,62.2 484.4,61.7 485.4,61.9 486.3,62.4 487.2,63.4 488.2,63.6 489.2,63.7 490.1,63.8 491.1,63.1 492.2,62.8 493.1,63.5 494.0,63.4 494.9,64.0 495.9,64.3 496.8,64.1 497.9,64.1 499.1,63.8 500.1,64.6 501.4,64.6 501.9,63.6 502.4,62.5 503.2,62.1 504.3,62.7 505.2,62.0 505.1,60.8 505.5,59.9 506.4,59.2 507.8,59.9 508.0,58.2 509.2,57.2 510.2,57.3 511.2,57.6 512.2,58.7 512.2,60.1 513.3,60.3 514.6,60.8 515.4,61.6 515.1,62.8 514.5,64.5 515.2,65.2 516.2,65.5 517.3,65.3 518.1,65.7 518.9,66.4 519.7,66.9 520.1,67.7 521.1,68.0 522.6,67.8 524.3,67.8 525.2,68.5 525.3,69.8 525.3,71.1 525.8,71.9 526.3,72.9 527.6,72.4 528.6,72.4 529.1,73.5 530.0,74.2 531.1,74.3 532.3,73.6 532.5,72.3 532.6,70.3 533.6,70.1 534.6,70.0 535.5,69.6 536.7,69.8 537.8,69.8 538.6,68.9 539.6,68.6 540.6,69.3 541.6,69.1 542.6,68.1 543.7,67.6 544.8,66.9 545.6,68.1 546.6,68.6 547.5,69.4 548.5,69.6 549.5,69.4 550.6,68.9 551.7,68.1 552.8,68.5 553.6,69.5 554.4,70.4 555.4,70.9 556.5,70.2 558.3,69.2 559.4,69.4 559.7,71.1 560.5,71.9 561.0,73.0 562.4,73.0 563.6,73.3 564.1,74.2 563.6,75.8 563.8,76.8 564.5,77.4 565.7,77.5 566.4,77.8 567.8,77.8 568.7,78.4 568.8,80.1 569.1,81.0 568.9,82.2 569.9,82.5 571.4,83.4 572.2,85.4 571.4,86.1 570.8,86.8 569.5,87.3 568.8,87.9 568.6,89.0 568.1,89.9 567.8,91.0 567.5,92.0 566.3,92.2 565.4,92.5 564.4,92.2 563.5,93.4 562.7,92.8 561.6,92.4 562.1,90.7 561.2,89.4 560.1,90.6 559.0,91.0 557.9,89.8 556.8,90.0 556.8,91.9 555.8,92.3 554.6,92.3 553.5,92.7 552.8,93.7 552.1,94.9 550.9,95.3 550.0,95.4 548.7,94.5 547.9,95.0 547.1,95.5 546.2,96.5 545.2,96.6 544.4,95.6 543.5,94.8 542.2,95.9 541.0,95.8 539.7,95.8 539.4,94.7 539.5,93.0 538.8,92.2 537.6,92.6 536.4,92.8 535.6,93.1 534.8,92.1 534.0,91.1 533.1,90.3 531.9,91.2 530.6,92.3 529.9,90.8 529.1,89.1 527.9,90.4 526.8,90.7 526.0,89.4 525.0,88.9 524.1,88.7 522.9,89.5 521.8,90.1 521.0,89.9 520.0,89.5 519.0,88.9 518.0,88.6 517.0,87.6 516.0,88.7 515.2,89.6 514.2,90.1 513.2,90.1 512.0,89.2 510.9,88.5 510.1,89.7 509.3,90.6 508.4,90.9 507.7,91.8 506.5,91.4 505.3,90.8 504.4,90.9 503.3,91.0 502.7,91.7 502.3,92.9 501.1,92.9 500.0,92.1 498.9,92.2 497.6,93.0 496.4,93.1 495.8,92.1 495.5,90.6 493.3,91.0 492.2,90.4 492.2,89.6 493.2,88.0 494.7,88.0 494.8,86.9 495.0,85.9 495.0,85.3 494.7,84.4 495.6,83.6 496.1,82.8 496.1,81.7 495.7,80.8 494.7,80.4 493.5,80.2 492.9,80.5 491.8,79.9 490.9,80.2 489.8,79.7 489.0,79.9 488.5,80.6 488.5,82.0 487.7,82.8 487.2,84.0 486.0,84.1 485.4,84.7 484.3,84.8 483.8,85.4 483.4,86.5 482.7,87.1 482.0,87.7 480.7,87.1 479.8,87.5 479.2,88.5 478.4,88.9 477.6,90.2 476.4,89.6 475.3,89.0 474.2,88.9 473.2,89.8 472.1,90.5 471.0,91.3 470.1,90.5 469.2,89.9 468.4,88.7 467.6,88.3 466.3,88.8 465.4,88.7 464.2,88.0 464.4,86.6 463.7,85.8 463.0,85.1 461.6,84.5 461.6,83.6 460.4,82.2 461.6,81.4 462.4,80.6 462.8,79.8 463.5,78.8 463.4,77.6 463.3,76.3 464.4,75.7 464.7,74.8 463.8,73.3 464.1,72.4 465.2,71.8 467.0,71.5 466.1,70.1 466.2,69.1 466.0,68.1 466.2,67.2 467.0,66.6 468.1,66.1 469.6,66.1 469.2,64.0"/>
<path d="M540,87 L552,80" stroke="#6a5648" stroke-width="0.9" fill="none" stroke-linecap="round"/>
<path d="M540,88 L556,88" stroke="#6a5648" stroke-width="0.7" fill="none" stroke-linecap="round"/>
<path d="M546,85 L552,86" stroke="#6a5648" stroke-width="0.7" fill="none" stroke-linecap="round"/>
<path d="M492,86 L489,78" stroke="#6a5648" stroke-width="0.8" fill="none" stroke-linecap="round"/>
<path d="M494,86 L496,78" stroke="#6a5648" stroke-width="0.7" fill="none" stroke-linecap="round"/>
<polygon fill="#79a878" points="502.5,93.2 502.2,90.6 502.9,89.6 504.5,90.0 505.5,90.3 506.2,89.6 506.7,88.2 507.9,88.5 509.0,89.5 510.0,89.2 510.9,88.1 511.9,87.1 512.9,87.5 513.8,87.6 514.7,88.4 515.6,89.9 516.5,88.8 517.5,88.3 518.5,87.7 519.5,88.0 520.5,88.5 521.4,89.5 522.4,88.8 523.4,88.0 524.3,88.8 525.1,89.7 526.2,88.8 527.3,88.5 528.5,87.9 529.2,89.5 529.6,91.4 530.8,91.0 532.0,90.6 533.4,89.9 534.1,91.0 534.8,91.7 534.7,93.4 535.5,93.9 536.5,94.0 537.1,94.7 537.7,95.4 538.5,96.2 537.7,97.5 537.9,98.7 538.6,100.4 538.5,102.6 537.7,103.0 536.6,103.1 535.1,102.9 533.9,102.6 532.9,102.8 532.0,103.9 531.0,104.1 530.0,103.6 529.0,103.0 528.0,102.7 527.0,103.6 526.0,103.7 525.1,103.8 524.1,103.6 523.4,102.4 522.5,102.1 521.5,102.6 520.7,102.8 519.7,103.7 518.7,103.9 517.7,102.8 516.7,102.1 515.5,101.5 514.5,102.6 513.5,104.1 512.1,104.1 511.2,103.5 510.3,102.3 509.2,102.5 508.3,102.4 507.3,102.5 506.5,101.9 505.7,101.4 504.9,101.2 503.5,101.7 501.9,102.4 501.8,100.3 502.3,98.4 500.6,98.0 499.8,97.2 499.1,95.9 499.3,94.9 500.1,93.7 501.3,93.2"/>
<path d="M518.9,101.5 L511,91" stroke="#6a5648" stroke-width="1.0" fill="none" stroke-linecap="round"/>
<path d="M518.9,101.5 L527,92" stroke="#6a5648" stroke-width="1.0" fill="none" stroke-linecap="round"/>
<path d="M518.9,101.5 L519.3,92" stroke="#6a5648" stroke-width="0.8" fill="none" stroke-linecap="round"/>
<polygon fill="#87b585" points="500.5,101.6 500.9,100.2 501.6,99.4 502.4,98.8 503.7,98.5 504.7,99.4 505.6,100.1 506.6,99.9 507.7,99.1 508.8,98.9 509.7,99.3 510.5,100.0 511.3,100.9 512.1,101.5 513.2,101.2 514.3,101.0 515.1,101.4 516.1,101.7 517.0,102.4 518.0,102.5 519.0,101.9 520.0,102.6 521.1,103.6 522.0,101.7 523.0,100.6 524.2,101.6 525.4,102.4 526.4,102.0 527.4,101.6 528.4,101.2 529.4,100.6 530.3,100.7 531.4,101.6 532.0,103.0 532.8,104.0 534.0,103.7 536.0,103.5 536.1,104.8 535.8,105.9 535.1,106.5 535.3,107.7 535.0,108.6 534.6,109.6 534.1,110.5 532.9,110.7 531.7,110.8 531.0,111.9 530.8,114.6 529.7,114.4 528.0,113.0 527.3,113.8 526.5,114.6 525.6,114.8 524.8,115.6 523.7,114.9 522.6,114.6 521.7,114.8 521.0,116.1 520.0,116.5 518.8,115.8 517.7,115.4 516.6,115.8 515.6,116.3 514.4,116.7 513.4,116.5 512.3,116.3 511.3,115.1 510.3,115.1 509.0,116.5 507.9,117.0 506.9,117.1 506.0,116.5 505.1,115.6 504.5,114.3 503.5,113.8 501.9,115.1 501.1,113.5 501.5,112.0 499.7,111.9 498.1,111.8 497.5,110.0 498.1,108.8 499.4,107.6 499.4,106.5 498.3,105.5 498.4,104.3 499.7,103.8 499.4,102.6 499.7,101.8"/>
</g>
<g id="ground">
<path d="M8.0,208.9 Q14.8,205.3 21.5,203.4" stroke="#9a8848" stroke-width="1.3" fill="none" opacity="0.75"/>
<path d="M14.3,208.7 Q22.8,204.8 31.4,202.5" stroke="#8a783c" stroke-width="0.9" fill="none" opacity="0.56"/>
<path d="M20.0,209.2 Q28.5,206.0 37.1,204.3" stroke="#9a8848" stroke-width="1.9" fill="none" opacity="0.68"/>
<path d="M29.3,207.5 Q34.6,204.9 39.8,203.8" stroke="#7d6c34" stroke-width="0.8" fill="none" opacity="0.76"/>
<path d="M38.5,208.3 Q46.9,204.5 55.3,202.2" stroke="#8a783c" stroke-width="1.4" fill="none" opacity="0.67"/>
<path d="M47.0,208.6 Q54.8,205.4 62.6,203.7" stroke="#7d6c34" stroke-width="1.6" fill="none" opacity="0.56"/>
<path d="M53.6,207.7 Q59.5,204.6 65.5,203.1" stroke="#9a8848" stroke-width="0.9" fill="none" opacity="0.55"/>
<path d="M59.0,209.2 Q63.6,207.0 68.2,206.4" stroke="#7d6c34" stroke-width="1.3" fill="none" opacity="0.79"/>
<path d="M66.8,209.1 Q71.7,206.4 76.6,205.3" stroke="#6f6030" stroke-width="1.2" fill="none" opacity="0.56"/>
<path d="M71.9,209.8 Q78.5,207.0 85.0,205.9" stroke="#7d6c34" stroke-width="0.8" fill="none" opacity="0.61"/>
<path d="M80.3,208.0 Q88.3,204.4 96.2,202.4" stroke="#8a783c" stroke-width="1.3" fill="none" opacity="0.58"/>
<path d="M88.1,207.5 Q97.6,202.9 107.0,199.9" stroke="#6f6030" stroke-width="1.9" fill="none" opacity="0.46"/>
<path d="M94.4,209.0 Q103.9,204.8 113.4,202.2" stroke="#7d6c34" stroke-width="1.9" fill="none" opacity="0.52"/>
<path d="M101.2,208.3 Q109.6,204.8 117.9,202.9" stroke="#7d6c34" stroke-width="0.9" fill="none" opacity="0.52"/>
<path d="M110.7,208.4 Q115.3,205.9 119.8,205.1" stroke="#8a783c" stroke-width="1.9" fill="none" opacity="0.62"/>
<path d="M119.7,208.0 Q128.5,204.5 137.4,202.6" stroke="#8a783c" stroke-width="1.7" fill="none" opacity="0.54"/>
<path d="M126.0,209.9 Q134.2,206.5 142.4,204.8" stroke="#9a8848" stroke-width="1.8" fill="none" opacity="0.66"/>
<path d="M134.0,207.6 Q139.0,204.7 144.0,203.4" stroke="#8a783c" stroke-width="1.6" fill="none" opacity="0.59"/>
<path d="M141.9,208.7 Q150.9,204.7 160.0,202.4" stroke="#7d6c34" stroke-width="0.9" fill="none" opacity="0.62"/>
<path d="M151.5,207.7 Q159.1,204.5 166.7,203.0" stroke="#8a783c" stroke-width="1.6" fill="none" opacity="0.47"/>
<path d="M159.4,207.6 Q165.1,205.0 170.9,203.9" stroke="#8a783c" stroke-width="0.9" fill="none" opacity="0.50"/>
<path d="M167.5,209.3 Q173.7,206.4 179.8,205.0" stroke="#8a783c" stroke-width="1.4" fill="none" opacity="0.77"/>
<path d="M175.9,208.3 Q182.1,205.7 188.4,204.7" stroke="#7d6c34" stroke-width="1.3" fill="none" opacity="0.71"/>
<path d="M183.1,207.7 Q192.6,203.5 202.1,200.9" stroke="#7d6c34" stroke-width="1.8" fill="none" opacity="0.71"/>
<path d="M193.0,209.8 Q201.5,206.2 209.9,204.2" stroke="#9a8848" stroke-width="1.8" fill="none" opacity="0.75"/>
<path d="M200.9,209.7 Q209.4,205.8 217.8,203.6" stroke="#9a8848" stroke-width="1.2" fill="none" opacity="0.45"/>
<path d="M206.4,207.8 Q211.4,205.4 216.3,204.7" stroke="#9a8848" stroke-width="1.6" fill="none" opacity="0.59"/>
<path d="M216.6,208.6 Q224.0,204.9 231.4,202.7" stroke="#7d6c34" stroke-width="1.4" fill="none" opacity="0.63"/>
<path d="M223.8,207.6 Q228.7,204.7 233.6,203.5" stroke="#7d6c34" stroke-width="1.3" fill="none" opacity="0.67"/>
<path d="M235.2,207.5 Q241.0,204.9 246.8,203.8" stroke="#8a783c" stroke-width="1.4" fill="none" opacity="0.71"/>
<path d="M242.6,208.7 Q251.7,205.1 260.9,203.0" stroke="#9a8848" stroke-width="1.5" fill="none" opacity="0.52"/>
<path d="M250.6,209.8 Q259.1,205.5 267.7,202.9" stroke="#9a8848" stroke-width="1.0" fill="none" opacity="0.77"/>
<path d="M257.1,208.4 Q262.3,205.5 267.4,204.2" stroke="#7d6c34" stroke-width="1.6" fill="none" opacity="0.78"/>
<path d="M264.0,208.6 Q269.4,206.1 274.7,205.2" stroke="#8a783c" stroke-width="1.7" fill="none" opacity="0.58"/>
<path d="M272.7,209.3 Q280.5,205.4 288.4,203.0" stroke="#9a8848" stroke-width="1.2" fill="none" opacity="0.74"/>
<path d="M279.6,209.2 Q287.1,206.0 294.7,204.4" stroke="#6f6030" stroke-width="1.1" fill="none" opacity="0.73"/>
<path d="M284.7,208.6 Q289.9,206.4 295.1,205.7" stroke="#6f6030" stroke-width="1.1" fill="none" opacity="0.50"/>
<path d="M290.1,208.6 Q297.7,205.0 305.4,203.0" stroke="#6f6030" stroke-width="1.9" fill="none" opacity="0.69"/>
<path d="M296.5,207.9 Q303.3,205.2 310.2,204.1" stroke="#9a8848" stroke-width="1.4" fill="none" opacity="0.46"/>
<path d="M303.1,208.8 Q311.4,204.6 319.8,201.9" stroke="#8a783c" stroke-width="1.2" fill="none" opacity="0.73"/>
<path d="M314.4,209.8 Q319.3,207.2 324.3,206.1" stroke="#8a783c" stroke-width="1.3" fill="none" opacity="0.52"/>
<path d="M352.0,209.1 L367.5,208.6" stroke="#d6c486" stroke-width="2.1" stroke-linecap="round" opacity="0.8"/>
<path d="M363.9,208.1 L383.0,208.2" stroke="#d6c486" stroke-width="2.1" stroke-linecap="round" opacity="0.8"/>
<path d="M375.1,208.2 L393.9,208.2" stroke="#d6c486" stroke-width="1.4" stroke-linecap="round" opacity="0.8"/>
<path d="M385.5,208.1 L400.3,207.9" stroke="#d6c486" stroke-width="1.5" stroke-linecap="round" opacity="0.8"/>
<path d="M398.8,208.3 L416.0,208.6" stroke="#d6c486" stroke-width="1.3" stroke-linecap="round" opacity="0.8"/>
<path d="M409.7,208.1 L419.3,208.6" stroke="#d6c486" stroke-width="1.4" stroke-linecap="round" opacity="0.8"/>
<path d="M417.5,209.2 L437.2,207.9" stroke="#d6c486" stroke-width="2.2" stroke-linecap="round" opacity="0.8"/>
<path d="M427.8,208.4 L443.9,208.7" stroke="#d6c486" stroke-width="1.9" stroke-linecap="round" opacity="0.8"/>
<path d="M441.5,208.5 L460.2,208.0" stroke="#d6c486" stroke-width="1.4" stroke-linecap="round" opacity="0.8"/>
<path d="M448.7,208.5 L457.4,208.3" stroke="#d6c486" stroke-width="1.2" stroke-linecap="round" opacity="0.8"/>
<path d="M460.1,208.5 L472.1,208.6" stroke="#d6c486" stroke-width="1.7" stroke-linecap="round" opacity="0.8"/>
<path d="M468.6,209.0 L478.0,207.7" stroke="#d6c486" stroke-width="2.2" stroke-linecap="round" opacity="0.8"/>
<path d="M474.8,209.2 L478.0,207.6" stroke="#d6c486" stroke-width="2.0" stroke-linecap="round" opacity="0.8"/>
<path d="M352.0,204.4 L364.8,203.2" stroke="#d2be55" stroke-width="3.0" stroke-linecap="round"/>
<path d="M360.7,204.6 L377.3,203.4" stroke="#cfba5c" stroke-width="3.3" stroke-linecap="round"/>
<path d="M371.4,204.9 L381.8,203.7" stroke="#d6c748" stroke-width="2.4" stroke-linecap="round"/>
<path d="M379.2,205.5 L392.1,204.3" stroke="#dcd62c" stroke-width="3.2" stroke-linecap="round"/>
<path d="M384.4,204.5 L400.8,203.3" stroke="#dcd62c" stroke-width="2.7" stroke-linecap="round"/>
<path d="M391.6,204.8 L400.0,203.6" stroke="#d9d430" stroke-width="2.8" stroke-linecap="round"/>
<path d="M398.4,204.6 L408.6,203.4" stroke="#d2be55" stroke-width="2.9" stroke-linecap="round"/>
<path d="M407.8,205.1 L417.9,203.9" stroke="#d9d430" stroke-width="2.1" stroke-linecap="round"/>
<path d="M418.7,205.0 L431.0,203.8" stroke="#cfba5c" stroke-width="3.0" stroke-linecap="round"/>
<path d="M425.8,205.3 L435.3,204.1" stroke="#cfba5c" stroke-width="2.1" stroke-linecap="round"/>
<path d="M436.2,205.1 L443.6,203.9" stroke="#cfba5c" stroke-width="2.2" stroke-linecap="round"/>
<path d="M445.6,205.3 L462.1,204.1" stroke="#cdb94f" stroke-width="2.1" stroke-linecap="round"/>
<path d="M453.2,205.6 L461.7,204.4" stroke="#dcd62c" stroke-width="2.2" stroke-linecap="round"/>
<path d="M463.8,204.6 L477.0,203.4" stroke="#d6c748" stroke-width="2.6" stroke-linecap="round"/>
<path d="M471.7,205.1 L478.0,203.9" stroke="#dcd62c" stroke-width="2.7" stroke-linecap="round"/>
<path d="M493.0,209.2 L506.0,208.2" stroke="#d6c486" stroke-width="1.5" stroke-linecap="round" opacity="0.8"/>
<path d="M499.0,208.7 L506.0,208.5" stroke="#d6c486" stroke-width="1.6" stroke-linecap="round" opacity="0.8"/>
<path d="M493.0,205.5 L502.7,204.3" stroke="#d9d430" stroke-width="3.2" stroke-linecap="round"/>
<path d="M503.5,204.5 L506.0,203.3" stroke="#d6c748" stroke-width="2.8" stroke-linecap="round"/>
<path d="M518.0,208.3 L529.9,208.4" stroke="#d6c486" stroke-width="1.3" stroke-linecap="round" opacity="0.8"/>
<path d="M528.3,208.2 L540.7,208.2" stroke="#d6c486" stroke-width="1.2" stroke-linecap="round" opacity="0.8"/>
<path d="M537.8,208.2 L546.6,208.1" stroke="#d6c486" stroke-width="2.0" stroke-linecap="round" opacity="0.8"/>
<path d="M544.7,208.9 L555.4,208.7" stroke="#d6c486" stroke-width="1.8" stroke-linecap="round" opacity="0.8"/>
<path d="M553.9,208.2 L573.6,208.6" stroke="#d6c486" stroke-width="1.5" stroke-linecap="round" opacity="0.8"/>
<path d="M561.1,208.5 L570.5,208.6" stroke="#d6c486" stroke-width="1.4" stroke-linecap="round" opacity="0.8"/>
<path d="M571.7,208.6 L587.4,208.3" stroke="#d6c486" stroke-width="1.3" stroke-linecap="round" opacity="0.8"/>
<path d="M578.2,209.0 L588.7,208.1" stroke="#d6c486" stroke-width="1.5" stroke-linecap="round" opacity="0.8"/>
<path d="M588.9,208.5 L602.3,208.6" stroke="#d6c486" stroke-width="1.9" stroke-linecap="round" opacity="0.8"/>
<path d="M596.8,208.8 L611.7,208.7" stroke="#d6c486" stroke-width="1.9" stroke-linecap="round" opacity="0.8"/>
<path d="M605.1,208.3 L614.0,208.1" stroke="#d6c486" stroke-width="2.0" stroke-linecap="round" opacity="0.8"/>
<path d="M612.4,208.2 L614.0,208.4" stroke="#d6c486" stroke-width="2.0" stroke-linecap="round" opacity="0.8"/>
<path d="M518.0,204.8 L533.8,203.6" stroke="#d9d430" stroke-width="2.5" stroke-linecap="round"/>
<path d="M526.0,204.5 L540.9,203.3" stroke="#d2be55" stroke-width="3.3" stroke-linecap="round"/>
<path d="M533.8,204.5 L547.5,203.3" stroke="#d9d430" stroke-width="2.4" stroke-linecap="round"/>
<path d="M542.3,205.0 L556.1,203.8" stroke="#d9d430" stroke-width="2.5" stroke-linecap="round"/>
<path d="M551.3,205.0 L558.5,203.8" stroke="#cfba5c" stroke-width="2.9" stroke-linecap="round"/>
<path d="M559.3,204.8 L568.4,203.6" stroke="#d9d430" stroke-width="2.3" stroke-linecap="round"/>
<path d="M566.6,204.5 L582.3,203.3" stroke="#cdb94f" stroke-width="2.6" stroke-linecap="round"/>
<path d="M573.3,205.0 L581.6,203.8" stroke="#d6c748" stroke-width="2.4" stroke-linecap="round"/>
<path d="M580.8,205.6 L591.4,204.4" stroke="#cfba5c" stroke-width="2.2" stroke-linecap="round"/>
<path d="M586.8,204.7 L596.1,203.5" stroke="#cdb94f" stroke-width="3.2" stroke-linecap="round"/>
<path d="M592.9,204.6 L602.7,203.4" stroke="#d6c748" stroke-width="2.5" stroke-linecap="round"/>
<path d="M601.3,205.4 L614.0,204.2" stroke="#d6c748" stroke-width="3.3" stroke-linecap="round"/>
<path d="M610.3,205.0 L614.0,203.8" stroke="#d9d430" stroke-width="3.1" stroke-linecap="round"/>
</g>
<polygon points="13.5,227.5 319,235 13.5,243" fill="#d6c170" stroke="#85858f" stroke-width="1.5" stroke-linejoin="miter"/>
<polygon points="641.5,227.3 336,235 641.5,243" fill="#ddc58a" stroke="#85858f" stroke-width="1.5" stroke-linejoin="miter"/>
<g id="roots">
<g opacity="0.5"><path d="M137.5,207.0 C128.6,215.0 113.3,217.5 110.5,222.9" stroke="#b0702a" stroke-width="0.77" fill="none" stroke-linecap="round"/><path d="M114.3,219.4 Q116.1,225.8 108.5,232.2" stroke="#b0702a" stroke-width="0.40" fill="none"/><path d="M108.6,227.7 l-1.3,4.0" stroke="#b0702a" stroke-width="0.22" fill="none" opacity="0.8"/><path d="M107.7,227.3 l-2.2,8.0" stroke="#b0702a" stroke-width="0.22" fill="none" opacity="0.8"/><path d="M121.7,215.9 Q124.7,221.1 114.1,226.3" stroke="#b0702a" stroke-width="0.39" fill="none"/><path d="M116.4,221.2 l-2.3,5.6" stroke="#b0702a" stroke-width="0.22" fill="none" opacity="0.8"/><path d="M114.1,223.7 l2.3,5.8" stroke="#b0702a" stroke-width="0.22" fill="none" opacity="0.8"/><path d="M123.3,215.2 Q125.9,223.3 116.5,231.4" stroke="#b0702a" stroke-width="0.33" fill="none"/><path d="M116.9,227.7 l-0.1,4.9" stroke="#b0702a" stroke-width="0.22" fill="none" opacity="0.8"/><path d="M113.8,225.1 l-1.3,7.9" stroke="#b0702a" stroke-width="0.22" fill="none" opacity="0.8"/><path d="M122.2,215.7 Q123.7,224.6 123.1,233.4" stroke="#b0702a" stroke-width="0.39" fill="none"/><path d="M123.6,227.8 l-1.9,6.4" stroke="#b0702a" stroke-width="0.22" fill="none" opacity="0.8"/><path d="M125.1,230.4 l2.1,8.4" stroke="#b0702a" stroke-width="0.22" fill="none" opacity="0.8"/><path d="M138.2,207.0 C131.6,214.5 120.1,217.5 116.7,225.1" stroke="#b0702a" stroke-width="0.91" fill="none" stroke-linecap="round"/><path d="M122.8,218.3 Q122.2,224.2 125.5,230.2" stroke="#b0702a" stroke-width="0.25" fill="none"/><path d="M123.1,224.6 l2.5,6.5" stroke="#b0702a" stroke-width="0.22" fill="none" opacity="0.8"/><path d="M125.5,225.4 l1.2,5.1" stroke="#b0702a" stroke-width="0.22" fill="none" opacity="0.8"/><path d="M120.7,220.0 Q118.7,226.8 119.6,233.6" stroke="#b0702a" stroke-width="0.28" fill="none"/><path d="M118.7,227.0 l-0.8,7.0" stroke="#b0702a" stroke-width="0.22" fill="none" opacity="0.8"/><path d="M118.5,231.1 l-2.2,8.1" stroke="#b0702a" stroke-width="0.22" fill="none" opacity="0.8"/><path d="M118.7,222.0 Q119.7,227.9 118.3,233.8" stroke="#b0702a" stroke-width="0.42" fill="none"/><path d="M121.0,229.8 l2.4,8.8" stroke="#b0702a" stroke-width="0.22" fill="none" opacity="0.8"/><path d="M118.8,227.4 l-0.0,5.9" stroke="#b0702a" stroke-width="0.22" fill="none" opacity="0.8"/><path d="M126.0,216.2 Q123.4,224.6 120.4,232.9" stroke="#b0702a" stroke-width="0.40" fill="none"/><path d="M122.0,228.5 l1.7,4.3" stroke="#b0702a" stroke-width="0.22" fill="none" opacity="0.8"/><path d="M118.9,229.5 l-0.4,4.9" stroke="#b0702a" stroke-width="0.22" fill="none" opacity="0.8"/><path d="M139.0,207.0 C134.6,214.0 126.9,217.5 125.8,228.4" stroke="#b0702a" stroke-width="1.04" fill="none" stroke-linecap="round"/><path d="M126.1,226.3 Q126.0,235.3 127.1,244.2" stroke="#b0702a" stroke-width="0.30" fill="none"/><path d="M129.8,239.5 l1.1,4.1" stroke="#b0702a" stroke-width="0.22" fill="none" opacity="0.8"/><path d="M125.3,238.0 l1.5,8.4" stroke="#b0702a" stroke-width="0.22" fill="none" opacity="0.8"/><path d="M127.8,221.2 Q129.9,227.4 127.1,233.5" stroke="#b0702a" stroke-width="0.31" fill="none"/><path d="M127.3,230.1 l1.3,4.1" stroke="#b0702a" stroke-width="0.22" fill="none" opacity="0.8"/><path d="M128.2,226.7 l-2.4,7.0" stroke="#b0702a" stroke-width="0.22" fill="none" opacity="0.8"/><path d="M127.5,221.9 Q126.0,230.1 126.8,238.4" stroke="#b0702a" stroke-width="0.33" fill="none"/><path d="M129.6,231.9 l-1.8,4.5" stroke="#b0702a" stroke-width="0.22" fill="none" opacity="0.8"/><path d="M124.4,236.3 l-0.3,4.7" stroke="#b0702a" stroke-width="0.22" fill="none" opacity="0.8"/><path d="M126.2,225.7 Q126.5,233.0 121.0,240.3" stroke="#b0702a" stroke-width="0.31" fill="none"/><path d="M121.0,237.2 l-1.7,4.9" stroke="#b0702a" stroke-width="0.22" fill="none" opacity="0.8"/><path d="M120.3,234.7 l0.3,4.2" stroke="#b0702a" stroke-width="0.22" fill="none" opacity="0.8"/><path d="M139.8,207.0 C137.5,213.5 133.7,217.5 132.1,235.4" stroke="#b0702a" stroke-width="1.18" fill="none" stroke-linecap="round"/><path d="M132.9,228.4 Q132.7,236.3 127.2,244.3" stroke="#b0702a" stroke-width="0.26" fill="none"/><path d="M128.8,241.4 l1.1,5.3" stroke="#b0702a" stroke-width="0.22" fill="none" opacity="0.8"/><path d="M128.4,240.7 l-2.3,5.9" stroke="#b0702a" stroke-width="0.22" fill="none" opacity="0.8"/><path d="M135.2,218.2 Q135.3,226.7 132.4,235.2" stroke="#b0702a" stroke-width="0.35" fill="none"/><path d="M135.1,232.7 l0.5,6.5" stroke="#b0702a" stroke-width="0.22" fill="none" opacity="0.8"/><path d="M133.9,228.4 l-0.9,7.5" stroke="#b0702a" stroke-width="0.22" fill="none" opacity="0.8"/><path d="M134.1,222.3 Q136.0,229.1 129.0,235.9" stroke="#b0702a" stroke-width="0.44" fill="none"/><path d="M128.1,232.3 l2.5,4.5" stroke="#b0702a" stroke-width="0.22" fill="none" opacity="0.8"/><path d="M126.4,233.6 l1.6,7.8" stroke="#b0702a" stroke-width="0.22" fill="none" opacity="0.8"/><path d="M134.5,220.7 Q135.4,227.8 128.9,235.0" stroke="#b0702a" stroke-width="0.33" fill="none"/><path d="M129.0,231.0 l-0.5,5.1" stroke="#b0702a" stroke-width="0.22" fill="none" opacity="0.8"/><path d="M126.2,230.8 l-1.3,7.5" stroke="#b0702a" stroke-width="0.22" fill="none" opacity="0.8"/><path d="M140.5,207.0 C140.5,213.0 140.5,217.5 140.5,238.2" stroke="#b0702a" stroke-width="1.32" fill="none" stroke-linecap="round"/><path d="M140.5,221.5 Q140.4,226.7 139.4,231.9" stroke="#b0702a" stroke-width="0.37" fill="none"/><path d="M142.1,229.5 l-0.1,6.5" stroke="#b0702a" stroke-width="0.22" fill="none" opacity="0.8"/><path d="M140.7,225.4 l1.4,7.1" stroke="#b0702a" stroke-width="0.22" fill="none" opacity="0.8"/><path d="M140.5,229.6 Q141.7,236.9 144.1,244.2" stroke="#b0702a" stroke-width="0.38" fill="none"/><path d="M142.6,237.7 l-0.6,7.1" stroke="#b0702a" stroke-width="0.22" fill="none" opacity="0.8"/><path d="M146.0,237.4 l2.4,4.0" stroke="#b0702a" stroke-width="0.22" fill="none" opacity="0.8"/><path d="M140.5,218.6 Q138.4,224.1 139.4,229.7" stroke="#b0702a" stroke-width="0.35" fill="none"/><path d="M136.9,226.2 l2.2,7.7" stroke="#b0702a" stroke-width="0.22" fill="none" opacity="0.8"/><path d="M139.2,227.1 l2.3,7.5" stroke="#b0702a" stroke-width="0.22" fill="none" opacity="0.8"/><path d="M140.5,216.7 Q141.6,222.3 141.9,228.0" stroke="#b0702a" stroke-width="0.30" fill="none"/><path d="M144.6,224.4 l-1.2,8.2" stroke="#b0702a" stroke-width="0.22" fill="none" opacity="0.8"/><path d="M139.8,222.6 l-1.5,7.0" stroke="#b0702a" stroke-width="0.22" fill="none" opacity="0.8"/><path d="M141.2,207.0 C143.5,213.5 147.3,217.5 148.2,232.1" stroke="#b0702a" stroke-width="1.18" fill="none" stroke-linecap="round"/><path d="M148.1,230.5 Q148.8,236.8 148.2,243.1" stroke="#b0702a" stroke-width="0.30" fill="none"/><path d="M146.2,239.2 l-1.1,4.9" stroke="#b0702a" stroke-width="0.22" fill="none" opacity="0.8"/><path d="M151.0,241.0 l1.6,8.7" stroke="#b0702a" stroke-width="0.22" fill="none" opacity="0.8"/><path d="M147.4,224.8 Q144.6,228.9 148.2,233.0" stroke="#b0702a" stroke-width="0.36" fill="none"/><path d="M149.4,229.8 l-2.5,6.7" stroke="#b0702a" stroke-width="0.22" fill="none" opacity="0.8"/><path d="M145.7,229.4 l-0.2,8.5" stroke="#b0702a" stroke-width="0.22" fill="none" opacity="0.8"/><path d="M145.9,218.6 Q147.9,223.3 149.6,227.9" stroke="#b0702a" stroke-width="0.35" fill="none"/><path d="M146.9,225.0 l-0.5,6.8" stroke="#b0702a" stroke-width="0.22" fill="none" opacity="0.8"/><path d="M148.0,221.9 l1.7,8.6" stroke="#b0702a" stroke-width="0.22" fill="none" opacity="0.8"/><path d="M147.9,229.0 Q145.4,233.0 149.5,237.1" stroke="#b0702a" stroke-width="0.42" fill="none"/><path d="M151.0,231.3 l-1.6,4.3" stroke="#b0702a" stroke-width="0.22" fill="none" opacity="0.8"/><path d="M151.4,232.1 l0.6,6.4" stroke="#b0702a" stroke-width="0.22" fill="none" opacity="0.8"/><path d="M142.0,207.0 C146.4,214.0 154.1,217.5 157.7,228.4" stroke="#b0702a" stroke-width="1.04" fill="none" stroke-linecap="round"/><path d="M150.6,216.7 Q151.4,222.5 150.1,228.2" stroke="#b0702a" stroke-width="0.42" fill="none"/><path d="M147.5,225.9 l0.1,7.4" stroke="#b0702a" stroke-width="0.22" fill="none" opacity="0.8"/><path d="M148.2,224.9 l-2.2,4.2" stroke="#b0702a" stroke-width="0.22" fill="none" opacity="0.8"/><path d="M153.1,219.7 Q151.0,227.1 156.1,234.5" stroke="#b0702a" stroke-width="0.27" fill="none"/><path d="M158.7,229.8 l-0.5,7.5" stroke="#b0702a" stroke-width="0.22" fill="none" opacity="0.8"/><path d="M157.5,229.9 l-2.1,8.1" stroke="#b0702a" stroke-width="0.22" fill="none" opacity="0.8"/><path d="M150.0,216.0 Q150.2,220.2 150.0,224.4" stroke="#b0702a" stroke-width="0.37" fill="none"/><path d="M148.0,218.9 l-0.0,4.8" stroke="#b0702a" stroke-width="0.22" fill="none" opacity="0.8"/><path d="M152.1,218.4 l2.0,7.4" stroke="#b0702a" stroke-width="0.22" fill="none" opacity="0.8"/><path d="M150.0,216.1 Q150.2,224.0 155.5,231.9" stroke="#b0702a" stroke-width="0.42" fill="none"/><path d="M158.4,227.9 l2.2,8.7" stroke="#b0702a" stroke-width="0.22" fill="none" opacity="0.8"/><path d="M157.3,229.8 l-0.7,7.1" stroke="#b0702a" stroke-width="0.22" fill="none" opacity="0.8"/><path d="M142.8,207.0 C149.4,214.5 160.9,217.5 165.3,227.0" stroke="#b0702a" stroke-width="0.91" fill="none" stroke-linecap="round"/><path d="M161.3,221.3 Q161.5,226.1 167.8,231.0" stroke="#b0702a" stroke-width="0.42" fill="none"/><path d="M166.1,224.0 l0.3,7.9" stroke="#b0702a" stroke-width="0.22" fill="none" opacity="0.8"/><path d="M169.3,224.5 l-0.7,4.4" stroke="#b0702a" stroke-width="0.22" fill="none" opacity="0.8"/><path d="M157.7,218.3 Q159.6,223.1 160.4,228.0" stroke="#b0702a" stroke-width="0.32" fill="none"/><path d="M158.1,225.9 l-0.4,6.9" stroke="#b0702a" stroke-width="0.22" fill="none" opacity="0.8"/><path d="M157.5,222.7 l-1.4,4.5" stroke="#b0702a" stroke-width="0.22" fill="none" opacity="0.8"/><path d="M164.6,225.7 Q164.7,232.3 170.8,238.9" stroke="#b0702a" stroke-width="0.27" fill="none"/><path d="M169.3,234.8 l0.7,7.9" stroke="#b0702a" stroke-width="0.22" fill="none" opacity="0.8"/><path d="M172.3,233.6 l-1.2,6.2" stroke="#b0702a" stroke-width="0.22" fill="none" opacity="0.8"/><path d="M157.3,217.9 Q157.5,224.4 157.2,230.8" stroke="#b0702a" stroke-width="0.34" fill="none"/><path d="M154.4,224.7 l0.4,8.0" stroke="#b0702a" stroke-width="0.22" fill="none" opacity="0.8"/><path d="M158.6,225.2 l2.5,5.9" stroke="#b0702a" stroke-width="0.22" fill="none" opacity="0.8"/><path d="M143.5,207.0 C152.4,215.0 167.7,217.5 172.1,220.2" stroke="#b0702a" stroke-width="0.77" fill="none" stroke-linecap="round"/><path d="M167.8,218.4 Q170.8,225.3 171.6,232.2" stroke="#b0702a" stroke-width="0.29" fill="none"/><path d="M170.0,226.6 l1.6,6.4" stroke="#b0702a" stroke-width="0.22" fill="none" opacity="0.8"/><path d="M168.9,228.4 l1.6,6.5" stroke="#b0702a" stroke-width="0.22" fill="none" opacity="0.8"/><path d="M164.2,217.2 Q164.8,223.1 168.5,229.1" stroke="#b0702a" stroke-width="0.38" fill="none"/><path d="M170.7,223.3 l-0.6,5.3" stroke="#b0702a" stroke-width="0.22" fill="none" opacity="0.8"/><path d="M170.2,223.1 l2.1,5.0" stroke="#b0702a" stroke-width="0.22" fill="none" opacity="0.8"/><path d="M170.5,219.4 Q169.3,227.9 169.2,236.3" stroke="#b0702a" stroke-width="0.37" fill="none"/><path d="M167.1,230.2 l-1.2,7.4" stroke="#b0702a" stroke-width="0.22" fill="none" opacity="0.8"/><path d="M168.0,233.2 l-1.5,6.5" stroke="#b0702a" stroke-width="0.22" fill="none" opacity="0.8"/><path d="M168.6,218.7 Q167.6,223.8 173.5,228.9" stroke="#b0702a" stroke-width="0.37" fill="none"/><path d="M172.7,225.9 l-1.8,4.3" stroke="#b0702a" stroke-width="0.22" fill="none" opacity="0.8"/><path d="M174.6,224.8 l-1.9,8.4" stroke="#b0702a" stroke-width="0.22" fill="none" opacity="0.8"/></g>
<g opacity="0.72"><path d="M507.8,206.5 C498.8,214.5 483.0,217.8 474.5,221.2" stroke="#7d726d" stroke-width="1.33" fill="none" stroke-linecap="round"/><path d="M495.9,213.6 Q493.6,222.6 489.7,231.6" stroke="#7d726d" stroke-width="0.64" fill="none"/><path d="M488.8,225.1 l-1.3,8.8" stroke="#7d726d" stroke-width="0.38" fill="none" opacity="0.8"/><path d="M488.6,226.6 l2.2,7.4" stroke="#7d726d" stroke-width="0.38" fill="none" opacity="0.8"/><path d="M475.9,220.7 Q478.1,228.3 468.3,235.8" stroke="#7d726d" stroke-width="0.62" fill="none"/><path d="M467.2,232.9 l1.7,6.9" stroke="#7d726d" stroke-width="0.38" fill="none" opacity="0.8"/><path d="M471.0,229.9 l2.3,6.8" stroke="#7d726d" stroke-width="0.38" fill="none" opacity="0.8"/><path d="M480.3,219.2 Q483.0,226.2 474.8,233.3" stroke="#7d726d" stroke-width="0.53" fill="none"/><path d="M476.5,226.5 l0.8,4.7" stroke="#7d726d" stroke-width="0.38" fill="none" opacity="0.8"/><path d="M476.8,228.0 l-1.6,4.2" stroke="#7d726d" stroke-width="0.38" fill="none" opacity="0.8"/><path d="M483.9,218.0 Q483.9,222.1 485.1,226.3" stroke="#7d726d" stroke-width="0.60" fill="none"/><path d="M484.6,221.0 l2.1,5.5" stroke="#7d726d" stroke-width="0.38" fill="none" opacity="0.8"/><path d="M484.4,221.4 l-1.0,7.0" stroke="#7d726d" stroke-width="0.38" fill="none" opacity="0.8"/><path d="M508.4,206.5 C501.2,214.1 488.6,217.8 484.2,225.5" stroke="#7d726d" stroke-width="1.52" fill="none" stroke-linecap="round"/><path d="M488.0,221.0 Q490.9,227.7 481.4,234.3" stroke="#7d726d" stroke-width="0.55" fill="none"/><path d="M481.0,230.3 l2.1,8.8" stroke="#7d726d" stroke-width="0.38" fill="none" opacity="0.8"/><path d="M481.5,230.3 l-2.0,8.5" stroke="#7d726d" stroke-width="0.38" fill="none" opacity="0.8"/><path d="M496.3,215.3 Q495.3,222.0 492.4,228.8" stroke="#7d726d" stroke-width="0.55" fill="none"/><path d="M490.6,226.6 l0.2,8.0" stroke="#7d726d" stroke-width="0.38" fill="none" opacity="0.8"/><path d="M493.3,225.7 l1.0,4.3" stroke="#7d726d" stroke-width="0.38" fill="none" opacity="0.8"/><path d="M492.1,217.9 Q491.9,226.1 493.9,234.2" stroke="#7d726d" stroke-width="0.71" fill="none"/><path d="M493.9,229.6 l0.4,9.0" stroke="#7d726d" stroke-width="0.38" fill="none" opacity="0.8"/><path d="M495.4,229.9 l1.1,7.2" stroke="#7d726d" stroke-width="0.38" fill="none" opacity="0.8"/><path d="M493.1,217.3 Q493.7,225.2 493.9,233.1" stroke="#7d726d" stroke-width="0.74" fill="none"/><path d="M491.0,228.6 l0.7,5.7" stroke="#7d726d" stroke-width="0.38" fill="none" opacity="0.8"/><path d="M491.9,227.7 l-0.3,5.3" stroke="#7d726d" stroke-width="0.38" fill="none" opacity="0.8"/><path d="M509.1,206.5 C503.6,213.7 494.2,217.8 493.0,231.6" stroke="#7d726d" stroke-width="1.71" fill="none" stroke-linecap="round"/><path d="M498.0,218.3 Q496.5,222.9 493.3,227.5" stroke="#7d726d" stroke-width="0.72" fill="none"/><path d="M491.4,224.1 l-2.0,6.3" stroke="#7d726d" stroke-width="0.38" fill="none" opacity="0.8"/><path d="M491.6,223.8 l1.2,8.6" stroke="#7d726d" stroke-width="0.38" fill="none" opacity="0.8"/><path d="M493.6,227.4 Q495.7,231.6 490.6,235.8" stroke="#7d726d" stroke-width="0.44" fill="none"/><path d="M488.8,231.3 l-0.6,7.8" stroke="#7d726d" stroke-width="0.38" fill="none" opacity="0.8"/><path d="M491.9,231.5 l-1.3,5.2" stroke="#7d726d" stroke-width="0.38" fill="none" opacity="0.8"/><path d="M499.0,217.1 Q497.0,221.4 498.9,225.7" stroke="#7d726d" stroke-width="0.72" fill="none"/><path d="M499.7,223.4 l-0.0,7.0" stroke="#7d726d" stroke-width="0.38" fill="none" opacity="0.8"/><path d="M496.1,221.3 l-2.4,7.8" stroke="#7d726d" stroke-width="0.38" fill="none" opacity="0.8"/><path d="M502.4,213.5 Q504.5,220.7 505.4,227.8" stroke="#7d726d" stroke-width="0.51" fill="none"/><path d="M505.6,225.1 l-0.8,8.3" stroke="#7d726d" stroke-width="0.38" fill="none" opacity="0.8"/><path d="M507.3,225.8 l-0.6,7.2" stroke="#7d726d" stroke-width="0.38" fill="none" opacity="0.8"/><path d="M509.7,206.5 C506.1,213.3 499.8,217.8 498.6,233.9" stroke="#7d726d" stroke-width="1.90" fill="none" stroke-linecap="round"/><path d="M498.9,230.7 Q501.0,237.5 496.3,244.2" stroke="#7d726d" stroke-width="0.60" fill="none"/><path d="M494.5,240.8 l-1.7,8.2" stroke="#7d726d" stroke-width="0.38" fill="none" opacity="0.8"/><path d="M496.4,238.7 l1.6,8.9" stroke="#7d726d" stroke-width="0.38" fill="none" opacity="0.8"/><path d="M503.6,216.1 Q505.2,222.1 506.1,228.1" stroke="#7d726d" stroke-width="0.56" fill="none"/><path d="M507.1,225.2 l-1.7,4.3" stroke="#7d726d" stroke-width="0.38" fill="none" opacity="0.8"/><path d="M505.4,225.0 l0.1,8.8" stroke="#7d726d" stroke-width="0.38" fill="none" opacity="0.8"/><path d="M503.9,215.5 Q504.5,222.3 506.4,229.1" stroke="#7d726d" stroke-width="0.60" fill="none"/><path d="M508.0,227.0 l2.2,7.4" stroke="#7d726d" stroke-width="0.38" fill="none" opacity="0.8"/><path d="M508.2,223.0 l-2.0,4.3" stroke="#7d726d" stroke-width="0.38" fill="none" opacity="0.8"/><path d="M503.7,215.9 Q506.2,222.4 506.9,228.9" stroke="#7d726d" stroke-width="0.56" fill="none"/><path d="M507.6,223.2 l-0.8,8.9" stroke="#7d726d" stroke-width="0.38" fill="none" opacity="0.8"/><path d="M509.5,223.3 l2.0,8.0" stroke="#7d726d" stroke-width="0.38" fill="none" opacity="0.8"/><path d="M510.4,206.5 C508.6,212.9 505.4,217.8 504.1,233.7" stroke="#7d726d" stroke-width="2.09" fill="none" stroke-linecap="round"/><path d="M506.8,217.3 Q509.4,222.5 501.8,227.7" stroke="#7d726d" stroke-width="0.53" fill="none"/><path d="M498.9,224.1 l-2.0,6.2" stroke="#7d726d" stroke-width="0.38" fill="none" opacity="0.8"/><path d="M500.8,224.8 l-0.1,6.1" stroke="#7d726d" stroke-width="0.38" fill="none" opacity="0.8"/><path d="M506.5,218.5 Q506.7,226.6 504.0,234.7" stroke="#7d726d" stroke-width="0.72" fill="none"/><path d="M506.7,230.8 l-2.3,8.8" stroke="#7d726d" stroke-width="0.38" fill="none" opacity="0.8"/><path d="M504.0,231.6 l-1.9,5.2" stroke="#7d726d" stroke-width="0.38" fill="none" opacity="0.8"/><path d="M506.7,217.8 Q509.6,222.5 501.6,227.2" stroke="#7d726d" stroke-width="0.70" fill="none"/><path d="M499.3,222.8 l1.5,6.5" stroke="#7d726d" stroke-width="0.38" fill="none" opacity="0.8"/><path d="M499.0,223.5 l-0.6,8.6" stroke="#7d726d" stroke-width="0.38" fill="none" opacity="0.8"/><path d="M505.5,222.9 Q502.8,229.2 506.2,235.5" stroke="#7d726d" stroke-width="0.66" fill="none"/><path d="M508.1,230.2 l-0.7,5.4" stroke="#7d726d" stroke-width="0.38" fill="none" opacity="0.8"/><path d="M503.3,233.1 l-1.7,6.3" stroke="#7d726d" stroke-width="0.38" fill="none" opacity="0.8"/><path d="M511.0,206.5 C511.0,212.5 511.0,217.8 511.0,235.8" stroke="#7d726d" stroke-width="2.28" fill="none" stroke-linecap="round"/><path d="M511.0,221.2 Q508.1,228.4 512.3,235.6" stroke="#7d726d" stroke-width="0.73" fill="none"/><path d="M512.8,232.0 l-1.3,7.4" stroke="#7d726d" stroke-width="0.38" fill="none" opacity="0.8"/><path d="M514.9,231.9 l-0.5,6.8" stroke="#7d726d" stroke-width="0.38" fill="none" opacity="0.8"/><path d="M511.0,215.7 Q511.3,221.7 515.2,227.8" stroke="#7d726d" stroke-width="0.70" fill="none"/><path d="M513.7,221.4 l1.4,5.1" stroke="#7d726d" stroke-width="0.38" fill="none" opacity="0.8"/><path d="M515.4,222.4 l0.4,7.0" stroke="#7d726d" stroke-width="0.38" fill="none" opacity="0.8"/><path d="M511.0,216.8 Q512.8,223.6 509.5,230.3" stroke="#7d726d" stroke-width="0.55" fill="none"/><path d="M512.4,225.4 l-1.4,6.1" stroke="#7d726d" stroke-width="0.38" fill="none" opacity="0.8"/><path d="M507.3,224.6 l-2.3,7.0" stroke="#7d726d" stroke-width="0.38" fill="none" opacity="0.8"/><path d="M511.0,218.0 Q512.1,225.9 507.3,233.7" stroke="#7d726d" stroke-width="0.66" fill="none"/><path d="M505.7,231.1 l-0.6,7.2" stroke="#7d726d" stroke-width="0.38" fill="none" opacity="0.8"/><path d="M505.8,231.7 l-0.3,8.0" stroke="#7d726d" stroke-width="0.38" fill="none" opacity="0.8"/><path d="M511.6,206.5 C513.5,212.9 516.6,217.8 517.2,238.2" stroke="#7d726d" stroke-width="2.09" fill="none" stroke-linecap="round"/><path d="M516.0,222.8 Q515.2,227.6 512.6,232.4" stroke="#7d726d" stroke-width="0.59" fill="none"/><path d="M510.6,230.0 l0.0,5.3" stroke="#7d726d" stroke-width="0.38" fill="none" opacity="0.8"/><path d="M512.2,228.2 l1.0,6.9" stroke="#7d726d" stroke-width="0.38" fill="none" opacity="0.8"/><path d="M514.9,217.0 Q512.2,221.9 519.0,226.8" stroke="#7d726d" stroke-width="0.47" fill="none"/><path d="M516.5,220.7 l0.2,8.6" stroke="#7d726d" stroke-width="0.38" fill="none" opacity="0.8"/><path d="M519.8,223.2 l-0.3,7.7" stroke="#7d726d" stroke-width="0.38" fill="none" opacity="0.8"/><path d="M514.9,217.1 Q512.1,225.1 514.5,233.1" stroke="#7d726d" stroke-width="0.54" fill="none"/><path d="M514.9,230.4 l2.0,8.6" stroke="#7d726d" stroke-width="0.38" fill="none" opacity="0.8"/><path d="M514.6,226.6 l0.9,6.7" stroke="#7d726d" stroke-width="0.38" fill="none" opacity="0.8"/><path d="M514.6,215.8 Q514.3,224.6 519.4,233.4" stroke="#7d726d" stroke-width="0.56" fill="none"/><path d="M516.8,228.3 l1.8,5.9" stroke="#7d726d" stroke-width="0.38" fill="none" opacity="0.8"/><path d="M518.1,228.3 l1.5,4.8" stroke="#7d726d" stroke-width="0.38" fill="none" opacity="0.8"/><path d="M512.3,206.5 C515.9,213.3 522.2,217.8 523.7,232.9" stroke="#7d726d" stroke-width="1.90" fill="none" stroke-linecap="round"/><path d="M517.1,213.9 Q519.1,222.0 516.5,230.1" stroke="#7d726d" stroke-width="0.58" fill="none"/><path d="M514.5,228.0 l-1.9,5.3" stroke="#7d726d" stroke-width="0.38" fill="none" opacity="0.8"/><path d="M518.0,224.1 l0.7,5.5" stroke="#7d726d" stroke-width="0.38" fill="none" opacity="0.8"/><path d="M522.1,224.4 Q519.6,232.0 522.0,239.7" stroke="#7d726d" stroke-width="0.58" fill="none"/><path d="M520.3,236.7 l-0.5,4.4" stroke="#7d726d" stroke-width="0.38" fill="none" opacity="0.8"/><path d="M524.4,236.3 l2.0,7.7" stroke="#7d726d" stroke-width="0.38" fill="none" opacity="0.8"/><path d="M516.8,213.5 Q517.0,222.0 521.1,230.5" stroke="#7d726d" stroke-width="0.72" fill="none"/><path d="M521.0,228.3 l-1.8,5.6" stroke="#7d726d" stroke-width="0.38" fill="none" opacity="0.8"/><path d="M523.3,224.3 l-1.9,5.7" stroke="#7d726d" stroke-width="0.38" fill="none" opacity="0.8"/><path d="M517.7,214.8 Q517.2,220.0 517.5,225.1" stroke="#7d726d" stroke-width="0.48" fill="none"/><path d="M518.4,221.9 l2.0,6.4" stroke="#7d726d" stroke-width="0.38" fill="none" opacity="0.8"/><path d="M517.0,219.3 l-0.8,5.3" stroke="#7d726d" stroke-width="0.38" fill="none" opacity="0.8"/><path d="M512.9,206.5 C518.4,213.7 527.8,217.8 529.4,227.7" stroke="#7d726d" stroke-width="1.71" fill="none" stroke-linecap="round"/><path d="M522.6,216.1 Q523.9,223.8 523.0,231.5" stroke="#7d726d" stroke-width="0.52" fill="none"/><path d="M520.4,227.9 l-0.5,8.6" stroke="#7d726d" stroke-width="0.38" fill="none" opacity="0.8"/><path d="M521.2,228.4 l-1.7,5.3" stroke="#7d726d" stroke-width="0.38" fill="none" opacity="0.8"/><path d="M529.2,226.9 Q526.5,235.6 528.3,244.3" stroke="#7d726d" stroke-width="0.59" fill="none"/><path d="M528.8,241.7 l-0.4,7.8" stroke="#7d726d" stroke-width="0.38" fill="none" opacity="0.8"/><path d="M525.3,238.7 l0.9,7.9" stroke="#7d726d" stroke-width="0.38" fill="none" opacity="0.8"/><path d="M525.6,219.4 Q523.4,225.7 527.6,232.0" stroke="#7d726d" stroke-width="0.60" fill="none"/><path d="M526.0,228.4 l-2.3,4.8" stroke="#7d726d" stroke-width="0.38" fill="none" opacity="0.8"/><path d="M524.9,227.3 l-1.3,6.8" stroke="#7d726d" stroke-width="0.38" fill="none" opacity="0.8"/><path d="M525.8,219.6 Q526.4,224.8 523.9,229.9" stroke="#7d726d" stroke-width="0.65" fill="none"/><path d="M525.0,225.4 l0.4,4.1" stroke="#7d726d" stroke-width="0.38" fill="none" opacity="0.8"/><path d="M522.7,223.9 l-0.6,4.5" stroke="#7d726d" stroke-width="0.38" fill="none" opacity="0.8"/><path d="M513.6,206.5 C520.8,214.1 533.4,217.8 537.2,227.5" stroke="#7d726d" stroke-width="1.52" fill="none" stroke-linecap="round"/><path d="M524.3,214.6 Q526.5,219.2 526.7,223.7" stroke="#7d726d" stroke-width="0.56" fill="none"/><path d="M525.2,217.9 l-2.0,5.5" stroke="#7d726d" stroke-width="0.38" fill="none" opacity="0.8"/><path d="M527.3,217.5 l1.8,5.6" stroke="#7d726d" stroke-width="0.38" fill="none" opacity="0.8"/><path d="M527.3,216.6 Q525.9,222.4 525.9,228.2" stroke="#7d726d" stroke-width="0.68" fill="none"/><path d="M528.8,224.9 l-2.1,7.7" stroke="#7d726d" stroke-width="0.38" fill="none" opacity="0.8"/><path d="M528.7,222.3 l-0.4,7.7" stroke="#7d726d" stroke-width="0.38" fill="none" opacity="0.8"/><path d="M534.8,223.3 Q537.8,231.0 537.1,238.8" stroke="#7d726d" stroke-width="0.69" fill="none"/><path d="M535.6,234.6 l-2.1,5.9" stroke="#7d726d" stroke-width="0.38" fill="none" opacity="0.8"/><path d="M539.0,234.3 l0.1,7.9" stroke="#7d726d" stroke-width="0.38" fill="none" opacity="0.8"/><path d="M524.1,214.5 Q524.1,220.3 526.3,226.0" stroke="#7d726d" stroke-width="0.66" fill="none"/><path d="M529.0,220.0 l0.2,7.4" stroke="#7d726d" stroke-width="0.38" fill="none" opacity="0.8"/><path d="M526.6,219.1 l0.5,7.0" stroke="#7d726d" stroke-width="0.38" fill="none" opacity="0.8"/><path d="M514.2,206.5 C523.2,214.5 539.0,217.8 543.5,222.4" stroke="#7d726d" stroke-width="1.33" fill="none" stroke-linecap="round"/><path d="M540.7,220.3 Q542.1,226.2 547.8,232.1" stroke="#7d726d" stroke-width="0.75" fill="none"/><path d="M549.0,227.2 l-0.7,4.1" stroke="#7d726d" stroke-width="0.38" fill="none" opacity="0.8"/><path d="M548.7,226.3 l1.1,7.8" stroke="#7d726d" stroke-width="0.38" fill="none" opacity="0.8"/><path d="M526.2,213.8 Q525.5,221.2 527.0,228.6" stroke="#7d726d" stroke-width="0.72" fill="none"/><path d="M526.4,224.3 l-2.2,4.9" stroke="#7d726d" stroke-width="0.38" fill="none" opacity="0.8"/><path d="M525.3,225.6 l0.1,4.2" stroke="#7d726d" stroke-width="0.38" fill="none" opacity="0.8"/><path d="M527.4,214.3 Q530.2,218.8 532.7,223.2" stroke="#7d726d" stroke-width="0.68" fill="none"/><path d="M532.8,220.5 l1.4,4.6" stroke="#7d726d" stroke-width="0.38" fill="none" opacity="0.8"/><path d="M530.2,218.6 l1.8,5.6" stroke="#7d726d" stroke-width="0.38" fill="none" opacity="0.8"/><path d="M542.1,221.2 Q543.5,226.8 549.7,232.5" stroke="#7d726d" stroke-width="0.72" fill="none"/><path d="M552.6,226.4 l-1.5,6.6" stroke="#7d726d" stroke-width="0.38" fill="none" opacity="0.8"/><path d="M550.0,226.9 l-1.4,6.9" stroke="#7d726d" stroke-width="0.38" fill="none" opacity="0.8"/></g>
</g>
<g id="labels">
<text x="41" y="221.8" font-size="10.4" fill="#231f20" stroke="#231f20" stroke-width="0.3" textLength="13.0" lengthAdjust="spacingAndGlyphs">DL</text>
<text x="78.4" y="221.8" font-size="10.4" fill="#231f20" stroke="#231f20" stroke-width="0.3" textLength="14.6" lengthAdjust="spacingAndGlyphs">CK</text>
<text x="116.8" y="221.8" font-size="10.4" fill="#231f20" stroke="#231f20" stroke-width="0.3" textLength="28.9" lengthAdjust="spacingAndGlyphs">NRDL</text>
<text x="170" y="221.8" font-size="10.4" fill="#231f20" stroke="#231f20" stroke-width="0.3" textLength="14.6" lengthAdjust="spacingAndGlyphs">NR</text>
<text x="209" y="221.8" font-size="10.4" fill="#231f20" stroke="#231f20" stroke-width="0.3" textLength="13.3" lengthAdjust="spacingAndGlyphs">NL</text>
<text x="246.2" y="221.8" font-size="10.4" fill="#231f20" stroke="#231f20" stroke-width="0.3" textLength="28.6" lengthAdjust="spacingAndGlyphs">NRNL</text>
<text x="380.8" y="221.2" font-size="10.4" fill="#231f20" stroke="#231f20" stroke-width="0.3" textLength="28.5" lengthAdjust="spacingAndGlyphs">NRNL</text>
<text x="433.8" y="221.2" font-size="10.4" fill="#231f20" stroke="#231f20" stroke-width="0.3" textLength="13.0" lengthAdjust="spacingAndGlyphs">NL</text>
<text x="470.8" y="221.2" font-size="10.4" fill="#645f5f" stroke="#645f5f" stroke-width="0.3" textLength="14.8" lengthAdjust="spacingAndGlyphs">NR</text>
<text x="509.8" y="221.2" font-size="10.4" fill="#231f20" stroke="#231f20" stroke-width="0.3" textLength="28.9" lengthAdjust="spacingAndGlyphs">NR<tspan fill="#514c4c">DL</tspan></text>
<text x="562.8" y="221.2" font-size="10.4" fill="#231f20" stroke="#231f20" stroke-width="0.3" textLength="14.8" lengthAdjust="spacingAndGlyphs">CK</text>
<text x="601.6" y="221.2" font-size="10.4" fill="#231f20" stroke="#231f20" stroke-width="0.3" textLength="13.4" lengthAdjust="spacingAndGlyphs">DL</text>
<text x="39.7" y="238.7" font-size="10.4" fill="#231f20" stroke="#231f20" stroke-width="0.3" textLength="26.9" lengthAdjust="spacingAndGlyphs">Litter</text>
<text x="587.4" y="239.2" font-size="10.4" fill="#231f20" stroke="#231f20" stroke-width="0.3" textLength="26.9" lengthAdjust="spacingAndGlyphs">Litter</text>
<text x="15.7" y="136.2" font-size="10.5" fill="#231f20" stroke="#231f20" stroke-width="0.3" textLength="55.5" lengthAdjust="spacingAndGlyphs">Coniferous</text>
<text x="27.6" y="148.4" font-size="10.5" fill="#231f20" stroke="#231f20" stroke-width="0.3" textLength="29.4" lengthAdjust="spacingAndGlyphs">forest</text>
<text x="573" y="136.2" font-size="10.5" fill="#231f20" stroke="#231f20" stroke-width="0.3" textLength="66.7" lengthAdjust="spacingAndGlyphs">Broad-leaved</text>
<text x="590.8" y="148.4" font-size="10.5" fill="#231f20" stroke="#231f20" stroke-width="0.3" textLength="29.2" lengthAdjust="spacingAndGlyphs">forest</text>
</g>
<g id="top">
<rect x="280.5" y="34" width="96.5" height="25.5" rx="12.75" fill="#dfe1f6" stroke="#4a4646" stroke-width="1"/>
<text x="291.3" y="51" font-size="10.8" fill="#231f20" stroke="#231f20" stroke-width="0.3" textLength="74.0" lengthAdjust="spacingAndGlyphs">Global change</text>
<path d="M329,65.6 L335.8,71.19999999999999 L332.2,71.19999999999999 L332.2,84.4 L335.8,84.4 L329,90 L322.2,84.4 L325.8,84.4 L325.8,71.19999999999999 L322.2,71.19999999999999 Z" fill="#fff" stroke="#2a2626" stroke-width="1.1" stroke-linejoin="miter"/>
<text x="289.7" y="104.3" font-size="10.8" fill="#231f20" stroke="#231f20" stroke-width="0.3" textLength="80.0" lengthAdjust="spacingAndGlyphs">Photosynthesis</text>
<path d="M326.35,110.4 L331.85,110.4 L331.85,125.7 L335.1,125.7 L329.1,132 L323.1,125.7 L326.35,125.7 Z" fill="#fff" stroke="#2a2626" stroke-width="1.1" stroke-linejoin="miter"/>
<rect x="283.8" y="138.5" width="96.2" height="25.2" rx="12.6" fill="#b5a006" stroke="#3a3424" stroke-width="1"/>
<text x="289.3" y="155.3" font-size="10.8" fill="#231f20" stroke="#231f20" stroke-width="0.3" textLength="85.4" lengthAdjust="spacingAndGlyphs">Litter (leaf&amp;root)</text>
<path d="M283.5,151 C258,152 238,168 235.3,201" stroke="#b39b08" stroke-width="1.6" fill="none" marker-end="url(#ahy)"/>
<path d="M380.2,151 C404,152 420,168 423,201" stroke="#b39b08" stroke-width="1.6" fill="none" marker-end="url(#ahy)"/>
</g>
<g id="diagrams">
<path d="M94.5,268.6 C62.6,287.9 59.6,315.5 84.6,334.9" stroke="#0b0b0b" stroke-width="4.6" fill="none"/><polygon points="90.6,339.6 79.6,337.2 84.2,334.6 85.7,329.5" fill="#0b0b0b"/>
<path d="M175.2,266.7 Q195.9,273.6 199.0,285.5" stroke="#0b0b0b" stroke-width="4.6" fill="none"/><polygon points="201.0,292.8 193.7,284.3 198.9,285.0 203.1,281.8" fill="#0b0b0b"/>
<path d="M176.2,342.4 Q199.4,331.6 200.9,321.1" stroke="#0b0b0b" stroke-width="3.0" fill="none"/><polygon points="201.7,315.2 204.6,324.2 200.8,321.6 196.5,323.1" fill="#0b0b0b"/>
<rect x="94.1" y="253.2" width="81.3" height="18.6" fill="#f9cdb0"/>
<rect x="98.7" y="294.6" width="72.5" height="18.9" fill="#cfe8bb"/>
<rect x="191.0" y="293.7" width="40.4" height="19.5" fill="#d9d9d9"/>
<rect x="92.6" y="338.5" width="83.7" height="19.1" fill="#b5c7e8"/>
<path d="M134.9,294.6 L134.9,272.6" stroke="#111" stroke-width="1.2" fill="none"/><path d="M137.5,276.2 L134.9,272.6 L132.3,276.2" stroke="#111" stroke-width="1.2" fill="none" stroke-linejoin="miter"/>
<path d="M134.9,313.5 L134.9,337.7" stroke="#111" stroke-width="1.2" fill="none"/><path d="M132.3,334.1 L134.9,337.7 L137.5,334.1" stroke="#111" stroke-width="1.2" fill="none" stroke-linejoin="miter"/>
<path d="M171.7,304.1 L189.8,304.1" stroke="#111" stroke-width="1.2" fill="none"/><path d="M186.2,306.7 L189.8,304.1 L186.2,301.4" stroke="#111" stroke-width="1.2" fill="none" stroke-linejoin="miter"/>
<text x="106.8" y="265.2" font-size="8.7" fill="#151515" stroke="#151515" stroke-width="0.25" textLength="55.8" lengthAdjust="spacingAndGlyphs">Soil properties</text>
<text x="108.3" y="306.8" font-size="8.7" fill="#151515" stroke="#151515" stroke-width="0.25" textLength="53.3" lengthAdjust="spacingAndGlyphs">Microclimates</text>
<text x="202.0" y="306.1" font-size="8.7" fill="#151515" stroke="#151515" stroke-width="0.25" textLength="18.3" lengthAdjust="spacingAndGlyphs">MML</text>
<text x="97.4" y="350.8" font-size="8.7" fill="#151515" stroke="#151515" stroke-width="0.25" textLength="74" lengthAdjust="spacingAndGlyphs">Microbial attributes</text>
<path d="M92.0,400.3 C59.3,420.9 56.3,450.0 82.9,469.9" stroke="#0b0b0b" stroke-width="3.9" fill="none"/><polygon points="88.3,474.1 78.1,471.9 82.5,469.5 83.7,464.7" fill="#0b0b0b"/>
<path d="M174.6,398.2 Q191.9,405.9 199.2,420.5" stroke="#0b0b0b" stroke-width="2.7" fill="none"/><polygon points="201.7,425.6 194.5,420.0 198.9,420.1 201.6,416.5" fill="#0b0b0b"/>
<path d="M175.2,476.3 Q195.8,466.6 199.3,455.6" stroke="#0b0b0b" stroke-width="4.6" fill="none"/><polygon points="201.7,448.4 203.2,459.5 199.2,456.1 193.9,456.5" fill="#0b0b0b"/>
<rect x="91.7" y="383.9" width="83.1" height="19.9" fill="#f9cdb0"/>
<rect x="96.3" y="427.4" width="73.9" height="19.8" fill="#cfe8bb"/>
<rect x="190.8" y="426.7" width="40.9" height="20.0" fill="#d9d9d9"/>
<rect x="90.8" y="472.3" width="84.6" height="19.9" fill="#b5c7e8"/>
<path d="M133.2,427.4 L133.2,404.6" stroke="#111" stroke-width="1.4" fill="none"/><path d="M135.8,408.2 L133.2,404.6 L130.7,408.2" stroke="#111" stroke-width="1.4" fill="none" stroke-linejoin="miter"/>
<path d="M133.2,447.2 L133.2,471.5" stroke="#c9c3b8" stroke-width="1.2" fill="none"/><path d="M130.7,467.9 L133.2,471.5 L135.8,467.9" stroke="#c9c3b8" stroke-width="1.2" fill="none" stroke-linejoin="miter"/>
<path d="M170.7,437.3 L189.6,437.3" stroke="#111" stroke-width="1.2" fill="none"/><path d="M186.0,439.9 L189.6,437.3 L186.0,434.7" stroke="#111" stroke-width="1.2" fill="none" stroke-linejoin="miter"/>
<text x="105.3" y="396.6" font-size="8.7" fill="#151515" stroke="#151515" stroke-width="0.25" textLength="55.8" lengthAdjust="spacingAndGlyphs">Soil properties</text>
<text x="106.6" y="440.0" font-size="8.7" fill="#151515" stroke="#151515" stroke-width="0.25" textLength="53.3" lengthAdjust="spacingAndGlyphs">Microclimates</text>
<text x="202.1" y="439.4" font-size="8.7" fill="#151515" stroke="#151515" stroke-width="0.25" textLength="18.3" lengthAdjust="spacingAndGlyphs">MML</text>
<text x="96.1" y="484.9" font-size="8.7" fill="#151515" stroke="#151515" stroke-width="0.25" textLength="74" lengthAdjust="spacingAndGlyphs">Microbial attributes</text>
<path d="M457.0,267.5 C424.8,288.1 421.8,317.6 447.4,338.3" stroke="#0b0b0b" stroke-width="4.6" fill="none"/><polygon points="453.4,343.0 442.4,340.6 447.0,338.0 448.5,332.9" fill="#0b0b0b"/>
<path d="M538.5,264.7 Q557.8,272.8 563.0,286.9" stroke="#0b0b0b" stroke-width="4.4" fill="none"/><polygon points="565.6,293.8 557.6,286.2 562.8,286.4 566.6,282.8" fill="#0b0b0b"/>
<path d="M540.0,344.5 Q559.2,334.8 563.6,322.4" stroke="#0b0b0b" stroke-width="3.0" fill="none"/><polygon points="565.6,316.7 566.6,326.1 563.4,322.8 558.9,323.3" fill="#0b0b0b"/>
<rect x="456.4" y="251.0" width="82.3" height="19.8" fill="#f9cdb0"/>
<rect x="460.6" y="294.8" width="74.4" height="20.2" fill="#cfe8bb"/>
<rect x="554.5" y="294.6" width="41.3" height="20.1" fill="#d9d9d9"/>
<rect x="455.9" y="340.7" width="84.3" height="20.6" fill="#b5c7e8"/>
<path d="M497.8,294.8 L497.8,271.6" stroke="#111" stroke-width="1.2" fill="none"/><path d="M500.4,275.2 L497.8,271.6 L495.2,275.2" stroke="#111" stroke-width="1.2" fill="none" stroke-linejoin="miter"/>
<path d="M497.8,315.0 L497.8,339.9" stroke="#111" stroke-width="1.2" fill="none"/><path d="M495.2,336.3 L497.8,339.9 L500.4,336.3" stroke="#111" stroke-width="1.2" fill="none" stroke-linejoin="miter"/>
<path d="M535.5,304.9 L553.3,304.9" stroke="#111" stroke-width="1.2" fill="none"/><path d="M549.7,307.5 L553.3,304.9 L549.7,302.3" stroke="#111" stroke-width="1.2" fill="none" stroke-linejoin="miter"/>
<text x="469.7" y="263.6" font-size="8.7" fill="#151515" stroke="#151515" stroke-width="0.25" textLength="55.8" lengthAdjust="spacingAndGlyphs">Soil properties</text>
<text x="471.2" y="307.6" font-size="8.7" fill="#151515" stroke="#151515" stroke-width="0.25" textLength="53.3" lengthAdjust="spacingAndGlyphs">Microclimates</text>
<text x="566.0" y="307.3" font-size="8.7" fill="#151515" stroke="#151515" stroke-width="0.25" textLength="18.3" lengthAdjust="spacingAndGlyphs">MML</text>
<text x="461.1" y="353.7" font-size="8.7" fill="#151515" stroke="#151515" stroke-width="0.25" textLength="74" lengthAdjust="spacingAndGlyphs">Microbial attributes</text>
<path d="M456.0,403.5 C426.0,422.4 423.0,449.8 444.7,469.3" stroke="#0b0b0b" stroke-width="6.6" fill="none"/><polygon points="452.3,475.2 439.1,472.4 444.3,469.0 446.4,463.1" fill="#0b0b0b"/>
<path d="M537.8,401.4 Q556.6,409.1 562.0,422.5" stroke="#0b0b0b" stroke-width="3.8" fill="none"/><polygon points="564.6,428.8 556.9,421.9 561.9,422.0 565.3,418.5" fill="#0b0b0b"/>
<path d="M538.5,477.3 Q558.2,467.5 562.3,456.4" stroke="#0b0b0b" stroke-width="3.6" fill="none"/><polygon points="564.6,450.2 565.6,460.3 562.1,456.9 557.3,457.2" fill="#0b0b0b"/>
<rect x="455.3" y="387.6" width="82.8" height="19.5" fill="#f9cdb0"/>
<rect x="460.2" y="429.6" width="73.3" height="19.2" fill="#cfe8bb"/>
<rect x="553.1" y="429.6" width="40.7" height="18.6" fill="#d9d9d9"/>
<rect x="455.0" y="473.6" width="83.7" height="19.3" fill="#b5c7e8"/>
<path d="M496.9,429.6 L496.9,407.9" stroke="#111" stroke-width="1.6" fill="none"/><path d="M499.5,411.5 L496.9,407.9 L494.2,411.5" stroke="#111" stroke-width="1.6" fill="none" stroke-linejoin="miter"/>
<path d="M496.9,448.8 L496.9,472.8" stroke="#cbc6c0" stroke-width="1.2" fill="none"/><path d="M494.2,469.2 L496.9,472.8 L499.5,469.2" stroke="#cbc6c0" stroke-width="1.2" fill="none" stroke-linejoin="miter"/>
<path d="M534.0,439.2 L551.9,439.2" stroke="#111" stroke-width="1.2" fill="none"/><path d="M548.3,441.8 L551.9,439.2 L548.3,436.6" stroke="#111" stroke-width="1.2" fill="none" stroke-linejoin="miter"/>
<text x="468.8" y="400.1" font-size="8.7" fill="#151515" stroke="#151515" stroke-width="0.25" textLength="55.8" lengthAdjust="spacingAndGlyphs">Soil properties</text>
<text x="470.2" y="441.9" font-size="8.7" fill="#151515" stroke="#151515" stroke-width="0.25" textLength="53.3" lengthAdjust="spacingAndGlyphs">Microclimates</text>
<text x="564.3" y="441.6" font-size="8.7" fill="#151515" stroke="#151515" stroke-width="0.25" textLength="18.3" lengthAdjust="spacingAndGlyphs">MML</text>
<text x="459.9" y="485.9" font-size="8.7" fill="#151515" stroke="#151515" stroke-width="0.25" textLength="74" lengthAdjust="spacingAndGlyphs">Microbial attributes</text>
</g>
<g id="centre">
<rect x="298.8" y="240.4" width="58.2" height="16.2" fill="#e6e8f8" stroke="#4e4a4a" stroke-width="1"/>
<text x="308.7" y="252.5" font-size="10.8" fill="#231f20" stroke="#231f20" stroke-width="0.3" textLength="37.7" lengthAdjust="spacingAndGlyphs">Topsoil</text>
<rect x="299" y="376.2" width="58.6" height="16.8" fill="#e6e8f8" stroke="#4e4a4a" stroke-width="1"/>
<text x="308.3" y="388.6" font-size="10.8" fill="#231f20" stroke="#231f20" stroke-width="0.3" textLength="40.0" lengthAdjust="spacingAndGlyphs">Subsoil</text>
<circle cx="327.2" cy="309.8" r="47.3" fill="#e4e6f8" stroke="#85858a" stroke-width="1.8"/>
<circle cx="328.5" cy="449.2" r="47" fill="#e4e6f8" stroke="#85858a" stroke-width="1.8"/>
<rect x="299" y="276.8" width="59" height="57.2" fill="none" stroke="#2b2828" stroke-width="1.1"/>
<rect x="299.6" y="420.2" width="58.4" height="57" fill="none" stroke="#2b2828" stroke-width="1.1"/>
<polygon points="300.5,287.5 318,298 336,309 354,319 354.5,328.5 336,314.5 318,303.5 300.5,296.5" fill="#8fd0d6" opacity="0.75"/>
<polygon points="318,303.5 330,308 342,312.5 354.5,317 354.5,322.5 342,316.5 330,312.5 318,309.5" fill="#d9c878" opacity="0.6"/>
<circle cx="314.4" cy="285" r="1.9" fill="#22a7ad"/>
<circle cx="317.7" cy="287.2" r="1.9" fill="#22a7ad"/>
<circle cx="310.4" cy="289.4" r="1.9" fill="#22a7ad"/>
<circle cx="303.9" cy="293.3" r="1.9" fill="#22a7ad"/>
<circle cx="307.5" cy="294.1" r="1.9" fill="#22a7ad"/>
<circle cx="301.7" cy="297.7" r="1.9" fill="#22a7ad"/>
<circle cx="305.3" cy="298.5" r="1.9" fill="#22a7ad"/>
<circle cx="308.2" cy="297" r="1.9" fill="#22a7ad"/>
<circle cx="313.3" cy="299.9" r="1.9" fill="#22a7ad"/>
<circle cx="323.3" cy="300.9" r="1.9" fill="#22a7ad"/>
<circle cx="327.2" cy="302.4" r="1.9" fill="#22a7ad"/>
<circle cx="325.7" cy="305.8" r="1.9" fill="#22a7ad"/>
<circle cx="333" cy="308.7" r="1.9" fill="#22a7ad"/>
<circle cx="322.8" cy="310.9" r="1.9" fill="#22a7ad"/>
<circle cx="317" cy="313" r="1.9" fill="#22a7ad"/>
<circle cx="319.2" cy="316" r="1.9" fill="#22a7ad"/>
<circle cx="329.7" cy="317" r="1.9" fill="#22a7ad"/>
<circle cx="332.3" cy="318.2" r="1.9" fill="#22a7ad"/>
<circle cx="335.2" cy="319.6" r="1.9" fill="#22a7ad"/>
<circle cx="344" cy="318.2" r="1.9" fill="#22a7ad"/>
<circle cx="340.3" cy="313.8" r="1.9" fill="#22a7ad"/>
<circle cx="352" cy="316.7" r="1.9" fill="#22a7ad"/>
<circle cx="348.4" cy="320.3" r="1.9" fill="#22a7ad"/>
<circle cx="319.9" cy="307.2" r="1.9" fill="#c7a416"/>
<circle cx="326.5" cy="305" r="1.9" fill="#c7a416"/>
<circle cx="322.8" cy="308.7" r="1.9" fill="#c7a416"/>
<circle cx="329.4" cy="308.2" r="1.9" fill="#c7a416"/>
<circle cx="331.6" cy="310.6" r="1.9" fill="#c7a416"/>
<circle cx="329.4" cy="312.6" r="1.9" fill="#c7a416"/>
<circle cx="317.4" cy="312.3" r="1.9" fill="#c7a416"/>
<circle cx="318.5" cy="315.5" r="1.9" fill="#c7a416"/>
<circle cx="336.7" cy="317" r="1.9" fill="#c7a416"/>
<circle cx="341.8" cy="313.8" r="1.9" fill="#c7a416"/>
<circle cx="344.7" cy="314.5" r="1.9" fill="#c7a416"/>
<circle cx="349.1" cy="312.6" r="1.9" fill="#c7a416"/>
<circle cx="346.9" cy="316.7" r="1.9" fill="#c7a416"/>
<circle cx="350.6" cy="318.9" r="1.9" fill="#c7a416"/>
<circle cx="353.5" cy="320.3" r="1.9" fill="#c7a416"/>
<circle cx="335.5" cy="321.8" r="1.9" fill="#c7a416"/>
<circle cx="344.7" cy="325.4" r="1.9" fill="#c7a416"/>
<path d="M301,291.9 L352.7,323.3" stroke="#22a7ad" stroke-width="1.2"/>
<path d="M318.5,306.5 L354.2,320.3" stroke="#c7a416" stroke-width="1.2"/>
<text x="321" y="295.2" font-size="8.6" fill="#22a7ad" stroke="#22a7ad" stroke-width="0.3" textLength="10.8" lengthAdjust="spacingAndGlyphs">CF</text>
<text x="319.5" y="329" font-size="8.6" fill="#c7a416" stroke="#c7a416" stroke-width="0.3" textLength="12.0" lengthAdjust="spacingAndGlyphs">BF</text>
<circle cx="336.4" cy="443.4" r="2.0" fill="#22a7ad"/>
<circle cx="325" cy="447.3" r="2.0" fill="#22a7ad"/>
<circle cx="348.4" cy="449.9" r="2.0" fill="#22a7ad"/>
<circle cx="345.5" cy="452.1" r="2.0" fill="#22a7ad"/>
<circle cx="332.3" cy="453.6" r="2.0" fill="#22a7ad"/>
<circle cx="336" cy="455.8" r="2.0" fill="#22a7ad"/>
<circle cx="343.3" cy="455.5" r="2.0" fill="#22a7ad"/>
<circle cx="349.1" cy="455.8" r="2.0" fill="#22a7ad"/>
<circle cx="319.9" cy="457.5" r="2.0" fill="#22a7ad"/>
<circle cx="340.3" cy="458.4" r="2.0" fill="#22a7ad"/>
<circle cx="342.5" cy="458" r="2.0" fill="#22a7ad"/>
<circle cx="341.1" cy="460.2" r="2.0" fill="#22a7ad"/>
<circle cx="331.6" cy="461.3" r="2.0" fill="#22a7ad"/>
<circle cx="333.8" cy="462.8" r="2.0" fill="#22a7ad"/>
<circle cx="323.3" cy="463.4" r="2.0" fill="#22a7ad"/>
<circle cx="340" cy="463.8" r="2.0" fill="#22a7ad"/>
<circle cx="330.4" cy="470.4" r="2.0" fill="#22a7ad"/>
<circle cx="323.1" cy="427.6" r="2.0" fill="#c7a416"/>
<circle cx="341.4" cy="429.5" r="2.0" fill="#c7a416"/>
<circle cx="342.1" cy="436.8" r="2.0" fill="#c7a416"/>
<circle cx="346.2" cy="439" r="2.0" fill="#c7a416"/>
<circle cx="331.6" cy="438.6" r="2.0" fill="#c7a416"/>
<circle cx="316.3" cy="440.5" r="2.0" fill="#c7a416"/>
<circle cx="325" cy="443.7" r="2.0" fill="#c7a416"/>
<circle cx="332.3" cy="446.3" r="2.0" fill="#c7a416"/>
<circle cx="332.3" cy="448.5" r="2.0" fill="#c7a416"/>
<circle cx="340.3" cy="445.9" r="2.0" fill="#c7a416"/>
<circle cx="338.9" cy="447.8" r="2.0" fill="#c7a416"/>
<circle cx="345.9" cy="446.3" r="2.0" fill="#c7a416"/>
<circle cx="307.1" cy="450.2" r="2.0" fill="#c7a416"/>
<circle cx="322.8" cy="450.7" r="2.0" fill="#c7a416"/>
<circle cx="326.5" cy="448.5" r="2.0" fill="#c7a416"/>
<circle cx="328.7" cy="453.9" r="2.0" fill="#c7a416"/>
<circle cx="331.6" cy="454.8" r="2.0" fill="#c7a416"/>
<circle cx="316.3" cy="460.4" r="2.0" fill="#c7a416"/>
<circle cx="348.4" cy="459.4" r="2.0" fill="#c7a416"/>
<circle cx="322.4" cy="467.7" r="2.0" fill="#c7a416"/>
<circle cx="329.4" cy="465.3" r="2.0" fill="#c7a416"/>
<circle cx="331.6" cy="464.2" r="2.0" fill="#c7a416"/>
<text x="303.4" y="342.8" font-size="8.6" fill="#231f20" stroke="#231f20" stroke-width="0.3" textLength="46.2" lengthAdjust="spacingAndGlyphs">P limitation</text>
<text x="304.6" y="487" font-size="8.6" fill="#231f20" stroke="#231f20" stroke-width="0.3" textLength="46.4" lengthAdjust="spacingAndGlyphs">P limitation</text>
<text transform="translate(297,331.8) rotate(-90)" font-size="8.6" fill="#231f20" stroke="#231f20" stroke-width="0.25" textLength="48.6" lengthAdjust="spacingAndGlyphs">C limitation</text>
<text transform="translate(297.6,472.6) rotate(-90)" font-size="8.6" fill="#231f20" stroke="#231f20" stroke-width="0.25" textLength="46" lengthAdjust="spacingAndGlyphs">C limitation</text>
</g>
<rect x="5.4" y="3.2" width="645.8" height="504.6" fill="none" stroke="#050505" stroke-width="2.2"/>
</svg></body></html>
